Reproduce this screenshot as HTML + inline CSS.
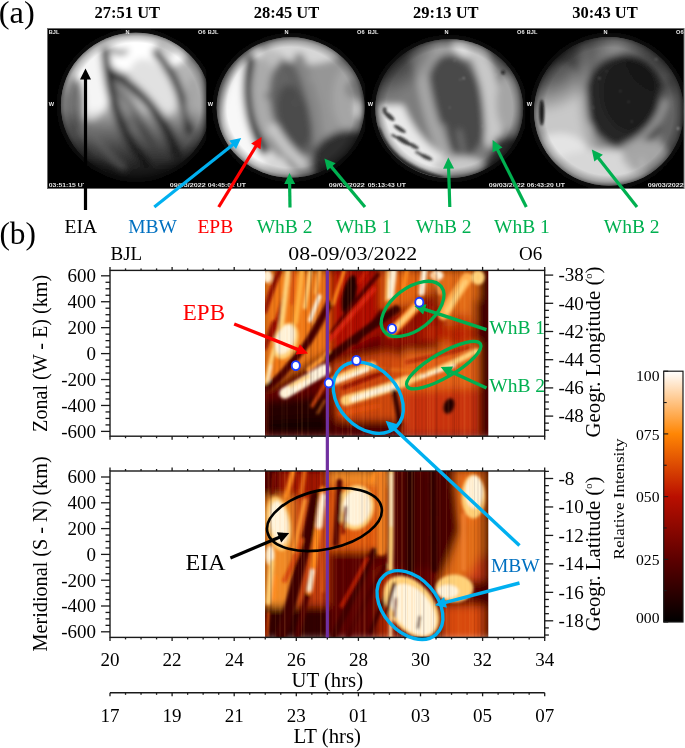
<!DOCTYPE html>
<html><head><meta charset="utf-8"><style>
html,body{margin:0;padding:0;background:#fff;width:685px;height:748px;overflow:hidden}
svg{display:block}
</style></head><body>
<svg width="685" height="748" viewBox="0 0 685 748">
<defs>
<linearGradient id="cbar" x1="0" y1="1" x2="0" y2="0">
<stop offset="0" stop-color="#000"/>
<stop offset="0.25" stop-color="#5d0000"/>
<stop offset="0.5" stop-color="#ba0f00"/>
<stop offset="0.75" stop-color="#ff8604"/>
<stop offset="1" stop-color="#fff"/>
</linearGradient>
<filter id="sb" x="-10%" y="-10%" width="120%" height="120%"><feGaussianBlur stdDeviation="15"/></filter>
<filter id="kb" x="-5%" y="-5%" width="110%" height="110%"><feGaussianBlur stdDeviation="1.8"/></filter>
<filter id="kbb" x="-5%" y="-5%" width="110%" height="110%"><feGaussianBlur stdDeviation="4"/></filter>
<filter id="sb2" x="-10%" y="-10%" width="120%" height="120%"><feGaussianBlur stdDeviation="5"/></filter>
<filter id="halo" x="-20%" y="-20%" width="140%" height="140%"><feGaussianBlur stdDeviation="14"/></filter>
<radialGradient id="vig" cx="0.5" cy="0.5" r="0.5">
<stop offset="0.86" stop-color="#000" stop-opacity="0"/>
<stop offset="0.95" stop-color="#000" stop-opacity="0.25"/>
<stop offset="1" stop-color="#000" stop-opacity="0.5"/>
</radialGradient>
<radialGradient id="dkr" cx="0.5" cy="0.5" r="0.5">
<stop offset="0" stop-color="#000" stop-opacity="0.75"/>
<stop offset="0.5" stop-color="#000" stop-opacity="0.5"/>
<stop offset="1" stop-color="#000" stop-opacity="0"/>
</radialGradient>
<linearGradient id="dk1" x1="0" y1="0" x2="0" y2="1">
<stop offset="0.5" stop-color="#000" stop-opacity="0"/>
<stop offset="0.62" stop-color="#000" stop-opacity="0.35"/>
<stop offset="0.75" stop-color="#000" stop-opacity="0.62"/>
<stop offset="0.88" stop-color="#000" stop-opacity="0.85"/>
</linearGradient>
<linearGradient id="skyv1" x1="0" y1="0" x2="0" y2="1">
<stop offset="0.05" stop-color="#e8e8e8"/>
<stop offset="0.25" stop-color="#d0d0d0"/>
<stop offset="0.5" stop-color="#a0a0a0"/>
<stop offset="0.75" stop-color="#707070"/>
<stop offset="0.95" stop-color="#303030"/>
</linearGradient>
</defs>
<rect width="685" height="748" fill="#fff"/>
<g id="sky">
<rect x="47" y="28" width="637" height="161" fill="#000"/>
<clipPath id="sc0"><ellipse cx="382" cy="330" rx="322" ry="310"/></clipPath>
<clipPath id="pc0"><rect x="0" y="0" width="685" height="689"/></clipPath>
<g transform="translate(47,28) scale(0.23248,0.23367)" clip-path="url(#pc0)">
<ellipse cx="382" cy="330" rx="332" ry="320" fill="#121212" filter="url(#halo)"/>
<g clip-path="url(#sc0)"><g filter="url(#sb)">
<rect x="0" y="0" width="685" height="689" fill="#b4b4b4"/>
<ellipse cx="380" cy="100" rx="230" ry="90" fill="#ffffff" opacity="1"/>
<ellipse cx="175" cy="240" rx="100" ry="160" fill="#f5f5f5" opacity="1"/>
<ellipse cx="120" cy="330" rx="40" ry="120" fill="#787878" opacity="1"/>
<ellipse cx="455" cy="260" rx="85" ry="140" fill="#e1e1e1" transform="rotate(-30 455 260)" opacity="1"/>
<path d="M262,200 C300,300 360,420 470,520 C440,420 380,300 262,200 Z" fill="#737373" opacity="1"/>
<ellipse cx="330" cy="360" rx="28" ry="65" fill="#919191" transform="rotate(-25 330 360)" opacity="1"/>
<path d="M250,95 C262,250 290,420 430,580" stroke="#282828" stroke-width="36" fill="none" stroke-linecap="round" opacity="1"/>
<path d="M270,185 C380,250 500,360 560,540" stroke="#2d2d2d" stroke-width="40" fill="none" stroke-linecap="round" opacity="1"/>
<path d="M470,105 C545,185 590,300 612,440" stroke="#373737" stroke-width="36" fill="none" stroke-linecap="round" opacity="1"/>
<path d="M115,250 C95,350 115,450 175,530" stroke="#5f5f5f" stroke-width="18" fill="none" stroke-linecap="round" opacity="1"/>
<path d="M280,90 C300,110 320,110 340,100" stroke="#6e6e6e" stroke-width="20" fill="none" stroke-linecap="round" opacity="1"/>
<path d="M480,70 C500,80 520,90 540,110" stroke="#787878" stroke-width="16" fill="none" stroke-linecap="round" opacity="1"/>
<ellipse cx="628" cy="310" rx="32" ry="100" fill="#a5a5a5" opacity="1"/>
<rect x="0" y="0" width="685" height="689" fill="url(#dk1)"/>
<path d="M170,400 C200,470 260,540 330,600" stroke="#6e6e6e" stroke-width="20" fill="none" stroke-linecap="round" opacity="0.7"/>
<circle cx="505" cy="222" r="3" fill="#fff"/><circle cx="330" cy="440" r="2" fill="#fff"/><circle cx="445" cy="560" r="2" fill="#fff"/><circle cx="380" cy="545" r="2" fill="#fff"/>
</g>
</g>
<ellipse cx="382" cy="330" rx="322" ry="310" fill="url(#vig)"/>
</g>
<clipPath id="sc1"><ellipse cx="364" cy="340" rx="318" ry="300"/></clipPath>
<clipPath id="pc1"><rect x="0" y="0" width="685" height="689"/></clipPath>
<g transform="translate(206,28) scale(0.23248,0.23367)" clip-path="url(#pc1)">
<ellipse cx="364" cy="340" rx="328" ry="310" fill="#121212" filter="url(#halo)"/>
<g clip-path="url(#sc1)"><g filter="url(#sb)">
<rect x="0" y="0" width="685" height="689" fill="#969696"/>
<ellipse cx="420" cy="95" rx="170" ry="60" fill="#d7d7d7" opacity="1"/>
<ellipse cx="260" cy="150" rx="90" ry="60" fill="#bebebe" opacity="1"/>
<path d="M215,75 C120,150 50,300 60,440 C80,560 200,640 340,650 L360,580 C250,540 170,420 168,290 C168,190 205,125 250,95 Z" fill="#f8f8f8" opacity="1"/>
<path d="M192,130 C166,250 176,400 250,525" stroke="#191919" stroke-width="38" fill="none" stroke-linecap="round" opacity="1"/>
<ellipse cx="255" cy="300" rx="60" ry="170" fill="#aaaaaa" transform="rotate(-5 255 300)" opacity="1"/>
<ellipse cx="385" cy="345" rx="105" ry="210" fill="#646464" transform="rotate(-14 385 345)" opacity="1"/>
<ellipse cx="380" cy="380" rx="70" ry="140" fill="#4b4b4b" transform="rotate(-14 380 380)" opacity="1"/>
<path d="M330,140 C350,180 390,230 420,300" stroke="#5a5a5a" stroke-width="16" fill="none" stroke-linecap="round" opacity="1"/>
<path d="M400,130 C455,250 480,380 490,520" stroke="#878787" stroke-width="48" fill="none" stroke-linecap="round" opacity="1"/>
<ellipse cx="605" cy="300" rx="60" ry="130" fill="#a5a5a5" opacity="1"/>
<ellipse cx="630" cy="262" rx="20" ry="26" fill="none" stroke="#555555" stroke-width="12"/>
<ellipse cx="665" cy="350" rx="22" ry="40" fill="#ebebeb" opacity="1"/>
<ellipse cx="600" cy="560" rx="150" ry="120" fill="#232323" transform="rotate(-20 600 560)" opacity="0.9"/>
<ellipse cx="325" cy="600" rx="85" ry="40" fill="#d7d7d7" transform="rotate(25 325 600)" opacity="1"/>
<path d="M350,565 L395,615" stroke="#3c3c3c" stroke-width="12" fill="none" stroke-linecap="round" opacity="1"/>
<path d="M290,430 C320,480 360,530 410,580" stroke="#cdcdcd" stroke-width="45" fill="none" stroke-linecap="round" opacity="0.9"/>
<circle cx="450" cy="218" r="3" fill="#fff"/><circle cx="262" cy="290" r="0" fill="#fff"/><circle cx="385" cy="320" r="2" fill="#fff"/><circle cx="420" cy="550" r="3" fill="#fff"/><circle cx="400" cy="545" r="2" fill="#fff"/><circle cx="300" cy="235" r="2" fill="#fff"/>
<ellipse cx="262" cy="290" rx="7" ry="9" fill="#101010"/>
</g>
</g>
<ellipse cx="364" cy="340" rx="318" ry="300" fill="url(#vig)"/>
</g>
<clipPath id="sc2"><ellipse cx="358" cy="345" rx="318" ry="297"/></clipPath>
<clipPath id="pc2"><rect x="0" y="0" width="685" height="689"/></clipPath>
<g transform="translate(366,28) scale(0.23248,0.23367)" clip-path="url(#pc2)">
<ellipse cx="358" cy="345" rx="328" ry="307" fill="#121212" filter="url(#halo)"/>
<g clip-path="url(#sc2)"><g filter="url(#sb)">
<rect x="0" y="0" width="685" height="689" fill="#7d7d7d"/>
<ellipse cx="300" cy="120" rx="120" ry="70" fill="#a0a0a0" opacity="1"/>
<ellipse cx="450" cy="85" rx="85" ry="45" fill="#e4e4e4" transform="rotate(20 450 85)" opacity="1"/>
<ellipse cx="130" cy="260" rx="80" ry="120" fill="#7d7d7d" transform="rotate(15 130 260)" opacity="1"/>
<ellipse cx="390" cy="330" rx="120" ry="220" fill="#484848" transform="rotate(-12 390 330)" opacity="1"/>
<path d="M225,80 C240,250 280,420 350,560" stroke="#a5a5a5" stroke-width="55" fill="none" stroke-linecap="round" opacity="1"/>
<path d="M470,80 C530,190 550,330 548,480" stroke="#c8c8c8" stroke-width="75" fill="none" stroke-linecap="round" opacity="1"/>
<ellipse cx="610" cy="320" rx="50" ry="120" fill="#a5a5a5" opacity="1"/>
<path d="M45,330 C45,470 130,600 300,640 L470,620 C360,570 230,510 160,330 Z" fill="#e8e8e8" opacity="1"/>
<ellipse cx="400" cy="590" rx="110" ry="40" fill="#c8c8c8" opacity="1"/>
<path d="M330,420 L360,560" stroke="#aaaaaa" stroke-width="20" fill="none" stroke-linecap="round" opacity="0.7"/>
<path d="M400,440 L420,540" stroke="#a0a0a0" stroke-width="16" fill="none" stroke-linecap="round" opacity="0.6"/>
<path d="M560,470 C610,460 700,470 700,480 L700,700 L470,700 C500,620 530,540 560,470 Z" fill="#323232" opacity="1"/>
<ellipse cx="90" cy="90" rx="230" ry="200" fill="url(#dkr)" transform="rotate(-40 90 90)" opacity="0.9"/>
<ellipse cx="640" cy="80" rx="150" ry="130" fill="url(#dkr)" opacity="0.5"/>
</g>
<g filter="url(#sb2)">
<ellipse cx="100" cy="378" rx="28" ry="10" fill="#1e1e1e" transform="rotate(40 100 378)" opacity="0.85"/>
<ellipse cx="80" cy="352" rx="9" ry="14" fill="#282828" opacity="0.8"/>
<ellipse cx="145" cy="432" rx="30" ry="9" fill="#232323" transform="rotate(32 145 432)" opacity="0.85"/>
<ellipse cx="160" cy="482" rx="36" ry="11" fill="#1e1e1e" transform="rotate(30 160 482)" opacity="0.85"/>
<ellipse cx="205" cy="505" rx="24" ry="9" fill="#282828" transform="rotate(28 205 505)" opacity="0.8"/>
<ellipse cx="120" cy="462" rx="14" ry="6" fill="#2d2d2d" transform="rotate(30 120 462)" opacity="0.8"/>
<ellipse cx="258" cy="552" rx="30" ry="9" fill="#232323" transform="rotate(25 258 552)" opacity="0.85"/>
<ellipse cx="225" cy="535" rx="16" ry="7" fill="#2d2d2d" transform="rotate(28 225 535)" opacity="0.7"/>
<path d="M50,440 C85,530 160,600 320,645" stroke="#1e1e1e" stroke-width="26" fill="none" stroke-linecap="round" opacity="0.75"/>
<circle cx="420" cy="215" r="3" fill="#fff"/><circle cx="405" cy="220" r="2" fill="#fff"/><circle cx="360" cy="340" r="2" fill="#fff"/><circle cx="500" cy="420" r="2" fill="#fff"/><circle cx="330" cy="530" r="2" fill="#fff"/><circle cx="380" cy="140" r="2" fill="#fff"/><circle cx="560" cy="200" r="2" fill="#fff"/>
<ellipse cx="590" cy="190" rx="7" ry="8" fill="#151515"/>
</g>
</g>
<ellipse cx="358" cy="345" rx="318" ry="297" fill="url(#vig)"/>
</g>
<clipPath id="sc3"><ellipse cx="361" cy="357" rx="322" ry="318"/></clipPath>
<clipPath id="pc3"><rect x="0" y="0" width="685" height="689"/></clipPath>
<g transform="translate(525,28) scale(0.23248,0.23367)" clip-path="url(#pc3)">
<ellipse cx="361" cy="357" rx="332" ry="328" fill="#121212" filter="url(#halo)"/>
<g clip-path="url(#sc3)"><g filter="url(#sb)">
<rect x="0" y="0" width="685" height="689" fill="#8c8c8c"/>
<ellipse cx="150" cy="420" rx="140" ry="270" fill="#c8c8c8" opacity="1"/>
<ellipse cx="150" cy="560" rx="130" ry="110" fill="#e4e4e4" opacity="1"/>
<ellipse cx="440" cy="95" rx="130" ry="55" fill="#8c8c8c" opacity="1"/>
<ellipse cx="250" cy="200" rx="25" ry="150" fill="#aaaaaa" opacity="1"/>
<ellipse cx="435" cy="315" rx="178" ry="205" fill="#262626" transform="rotate(-10 435 315)" opacity="1"/>
<ellipse cx="450" cy="290" rx="120" ry="160" fill="#1c1c1c" transform="rotate(-10 450 290)" opacity="1"/>
<path d="M255,100 C235,250 245,400 290,520" stroke="#afafaf" stroke-width="36" fill="none" stroke-linecap="round" opacity="1"/>
<ellipse cx="630" cy="380" rx="55" ry="170" fill="#646464" opacity="1"/>
<path d="M600,320 C570,420 500,480 420,515" stroke="#969696" stroke-width="30" fill="none" stroke-linecap="round" opacity="1"/>
<ellipse cx="330" cy="600" rx="220" ry="80" fill="#d7d7d7" opacity="1"/>
<ellipse cx="520" cy="550" rx="100" ry="70" fill="#a5a5a5" opacity="1"/>
<path d="M440,560 L460,640 M500,560 L510,630" stroke="#c8c8c8" stroke-width="14" fill="none" stroke-linecap="round" opacity="0.7"/>
<ellipse cx="100" cy="100" rx="300" ry="250" fill="url(#dkr)" transform="rotate(-40 100 100)"/>
<ellipse cx="620" cy="110" rx="220" ry="200" fill="url(#dkr)" opacity="0.75"/>
</g>
<g filter="url(#sb2)">
<ellipse cx="72" cy="362" rx="11" ry="55" fill="#0a0a0a" opacity="0.9"/>
<circle cx="320" cy="215" r="3" fill="#fff"/><circle cx="350" cy="185" r="2" fill="#fff"/><circle cx="410" cy="270" r="2" fill="#fff"/><circle cx="445" cy="315" r="2" fill="#fff"/><circle cx="295" cy="340" r="2" fill="#fff"/><circle cx="460" cy="400" r="2" fill="#fff"/><circle cx="565" cy="133" r="3" fill="#fff"/><circle cx="660" cy="430" r="5" fill="#fff"/><circle cx="270" cy="545" r="2" fill="#fff"/>
</g>
</g>
<ellipse cx="361" cy="357" rx="322" ry="318" fill="url(#vig)"/>
</g>
<rect x="47.5" y="28.5" width="636.5" height="160" fill="none" stroke="#6a6a6a" stroke-width="1"/>
<text x="48.8" y="34" font-size="5.6" font-weight="bold" fill="#e8e8e8" font-family='"Liberation Sans", "DejaVu Sans", sans-serif'>BJL</text>
<text x="127.5" y="34" font-size="5.6" font-weight="bold" fill="#e8e8e8" font-family='"Liberation Sans", "DejaVu Sans", sans-serif' text-anchor="middle">N</text>
<text x="205.5" y="34" font-size="5.6" font-weight="bold" fill="#e8e8e8" font-family='"Liberation Sans", "DejaVu Sans", sans-serif' text-anchor="end">O6</text>
<text x="48.8" y="106" font-size="5.6" font-weight="bold" fill="#e8e8e8" font-family='"Liberation Sans", "DejaVu Sans", sans-serif'>W</text>
<text x="48.8" y="187" font-size="5.6" font-weight="bold" fill="#e8e8e8" font-family='"Liberation Sans", "DejaVu Sans", sans-serif' textLength="38" lengthAdjust="spacingAndGlyphs">03:51:15 UT</text>
<text x="169.8" y="187.3" font-size="5.6" font-weight="bold" fill="#e8e8e8" font-family='"Liberation Sans", "DejaVu Sans", sans-serif' textLength="36" lengthAdjust="spacingAndGlyphs">09/03/2022</text>
<text x="207.8" y="34" font-size="5.6" font-weight="bold" fill="#e8e8e8" font-family='"Liberation Sans", "DejaVu Sans", sans-serif'>BJL</text>
<text x="286.5" y="34" font-size="5.6" font-weight="bold" fill="#e8e8e8" font-family='"Liberation Sans", "DejaVu Sans", sans-serif' text-anchor="middle">N</text>
<text x="364.5" y="34" font-size="5.6" font-weight="bold" fill="#e8e8e8" font-family='"Liberation Sans", "DejaVu Sans", sans-serif' text-anchor="end">O6</text>
<text x="207.8" y="106" font-size="5.6" font-weight="bold" fill="#e8e8e8" font-family='"Liberation Sans", "DejaVu Sans", sans-serif'>W</text>
<text x="207.8" y="187" font-size="5.6" font-weight="bold" fill="#e8e8e8" font-family='"Liberation Sans", "DejaVu Sans", sans-serif' textLength="38" lengthAdjust="spacingAndGlyphs">04:45:02 UT</text>
<text x="328.8" y="187.3" font-size="5.6" font-weight="bold" fill="#e8e8e8" font-family='"Liberation Sans", "DejaVu Sans", sans-serif' textLength="36" lengthAdjust="spacingAndGlyphs">09/03/2022</text>
<text x="367.8" y="34" font-size="5.6" font-weight="bold" fill="#e8e8e8" font-family='"Liberation Sans", "DejaVu Sans", sans-serif'>BJL</text>
<text x="446.5" y="34" font-size="5.6" font-weight="bold" fill="#e8e8e8" font-family='"Liberation Sans", "DejaVu Sans", sans-serif' text-anchor="middle">N</text>
<text x="524.5" y="34" font-size="5.6" font-weight="bold" fill="#e8e8e8" font-family='"Liberation Sans", "DejaVu Sans", sans-serif' text-anchor="end">O6</text>
<text x="367.8" y="106" font-size="5.6" font-weight="bold" fill="#e8e8e8" font-family='"Liberation Sans", "DejaVu Sans", sans-serif'>W</text>
<text x="367.8" y="187" font-size="5.6" font-weight="bold" fill="#e8e8e8" font-family='"Liberation Sans", "DejaVu Sans", sans-serif' textLength="38" lengthAdjust="spacingAndGlyphs">05:13:43 UT</text>
<text x="488.8" y="187.3" font-size="5.6" font-weight="bold" fill="#e8e8e8" font-family='"Liberation Sans", "DejaVu Sans", sans-serif' textLength="36" lengthAdjust="spacingAndGlyphs">09/03/2022</text>
<text x="526.8" y="34" font-size="5.6" font-weight="bold" fill="#e8e8e8" font-family='"Liberation Sans", "DejaVu Sans", sans-serif'>BJL</text>
<text x="605.5" y="34" font-size="5.6" font-weight="bold" fill="#e8e8e8" font-family='"Liberation Sans", "DejaVu Sans", sans-serif' text-anchor="middle">N</text>
<text x="683.5" y="34" font-size="5.6" font-weight="bold" fill="#e8e8e8" font-family='"Liberation Sans", "DejaVu Sans", sans-serif' text-anchor="end">O6</text>
<text x="526.8" y="106" font-size="5.6" font-weight="bold" fill="#e8e8e8" font-family='"Liberation Sans", "DejaVu Sans", sans-serif'>W</text>
<text x="526.8" y="187" font-size="5.6" font-weight="bold" fill="#e8e8e8" font-family='"Liberation Sans", "DejaVu Sans", sans-serif' textLength="38" lengthAdjust="spacingAndGlyphs">06:43:20 UT</text>
<text x="647.8" y="187.3" font-size="5.6" font-weight="bold" fill="#e8e8e8" font-family='"Liberation Sans", "DejaVu Sans", sans-serif' textLength="36" lengthAdjust="spacingAndGlyphs">09/03/2022</text>
</g>
<text x="-1.2" y="22.6" font-size="31" fill="#000" text-anchor="start" font-weight="normal" font-family='"Liberation Serif", "DejaVu Serif", serif' textLength="36" lengthAdjust="spacingAndGlyphs">(a)</text>
<text x="127.3" y="18.0" font-size="16.5" fill="#000" text-anchor="middle" font-weight="bold" font-family='"Liberation Serif", "DejaVu Serif", serif' >27:51 UT</text>
<text x="286.5" y="18.0" font-size="16.5" fill="#000" text-anchor="middle" font-weight="bold" font-family='"Liberation Serif", "DejaVu Serif", serif' >28:45 UT</text>
<text x="445.8" y="18.0" font-size="16.5" fill="#000" text-anchor="middle" font-weight="bold" font-family='"Liberation Serif", "DejaVu Serif", serif' >29:13 UT</text>
<text x="605.0" y="18.0" font-size="16.5" fill="#000" text-anchor="middle" font-weight="bold" font-family='"Liberation Serif", "DejaVu Serif", serif' >30:43 UT</text>
<text x="-0.6" y="243.6" font-size="31" fill="#000" text-anchor="start" font-weight="normal" font-family='"Liberation Serif", "DejaVu Serif", serif' textLength="36.5" lengthAdjust="spacingAndGlyphs">(b)</text>
<text x="64.6" y="233.0" font-size="19.5" fill="#000" text-anchor="start" font-weight="normal" font-family='"Liberation Serif", "DejaVu Serif", serif' >EIA</text>
<text x="128.2" y="233.0" font-size="19.5" fill="#0070c0" text-anchor="start" font-weight="normal" font-family='"Liberation Serif", "DejaVu Serif", serif' >MBW</text>
<text x="197.4" y="233.0" font-size="19.5" fill="#ff0000" text-anchor="start" font-weight="normal" font-family='"Liberation Serif", "DejaVu Serif", serif' >EPB</text>
<text x="256.7" y="233.0" font-size="19.5" fill="#00b050" text-anchor="start" font-weight="normal" font-family='"Liberation Serif", "DejaVu Serif", serif' >WhB 2</text>
<text x="335.7" y="233.0" font-size="19.5" fill="#00b050" text-anchor="start" font-weight="normal" font-family='"Liberation Serif", "DejaVu Serif", serif' >WhB 1</text>
<text x="415.8" y="233.0" font-size="19.5" fill="#00b050" text-anchor="start" font-weight="normal" font-family='"Liberation Serif", "DejaVu Serif", serif' >WhB 2</text>
<text x="494.0" y="233.0" font-size="19.5" fill="#00b050" text-anchor="start" font-weight="normal" font-family='"Liberation Serif", "DejaVu Serif", serif' >WhB 1</text>
<text x="603.8" y="233.0" font-size="19.5" fill="#00b050" text-anchor="start" font-weight="normal" font-family='"Liberation Serif", "DejaVu Serif", serif' >WhB 2</text>
<line x1="85.5" y1="210.0" x2="85.5" y2="78.5" stroke="#000" stroke-width="3.2"/>
<polygon points="85.5,68.5 91.0,79.5 80.0,79.5" fill="#000"/>
<line x1="154.3" y1="207.0" x2="233.4" y2="144.2" stroke="#00b0f0" stroke-width="3.2"/>
<polygon points="241.2,138.0 236.0,149.1 229.2,140.5" fill="#00b0f0"/>
<line x1="218.7" y1="207.0" x2="256.4" y2="145.5" stroke="#ff0000" stroke-width="3.2"/>
<polygon points="261.6,137.0 260.5,149.3 251.2,143.5" fill="#ff0000"/>
<line x1="290.0" y1="207.5" x2="289.6" y2="183.0" stroke="#00b050" stroke-width="3.2"/>
<polygon points="289.5,173.0 295.2,183.9 284.2,184.1" fill="#00b050"/>
<line x1="365.0" y1="207.0" x2="330.8" y2="166.1" stroke="#00b050" stroke-width="3.2"/>
<polygon points="324.4,158.4 335.7,163.3 327.2,170.4" fill="#00b050"/>
<line x1="449.8" y1="207.0" x2="448.6" y2="167.6" stroke="#00b050" stroke-width="3.2"/>
<polygon points="448.3,157.6 454.1,168.4 443.1,168.8" fill="#00b050"/>
<line x1="526.3" y1="207.0" x2="497.1" y2="148.9" stroke="#00b050" stroke-width="3.2"/>
<polygon points="492.6,140.0 502.5,147.4 492.6,152.3" fill="#00b050"/>
<line x1="637.0" y1="207.0" x2="598.0" y2="157.4" stroke="#00b050" stroke-width="3.2"/>
<polygon points="591.8,149.5 602.9,154.7 594.3,161.5" fill="#00b050"/>
<clipPath id="kcu"><rect x="265" y="270.4" width="223.3" height="165.8"/></clipPath>
<clipPath id="kcl"><rect x="265" y="471.0" width="223.3" height="166.39999999999998"/></clipPath>
<g clip-path="url(#kcu)">
<g filter="url(#kbb)"><g transform="translate(250,260) scale(0.364964)">
<rect x="0" y="0" width="685" height="493" fill="#600400" opacity="1"/>
<polygon points="40,30 215,30 215,250 40,350" fill="#f07818" opacity="1"/>
<polygon points="40,385 120,378 215,370 215,480 40,480" fill="#280000" opacity="1"/>
<polygon points="40,440 215,430 215,480 40,480" fill="#180000" opacity="1"/>
<polygon points="216,30 360,30 360,200 216,270" fill="#b01000" opacity="1"/>
<polygon points="225,285 300,265 380,250 430,270 430,470 240,440" fill="#d04a08" opacity="1"/>
<polygon points="216,440 420,440 420,480 216,480" fill="#4a0000" opacity="1"/>
<polygon points="360,30 500,30 500,110 360,140" fill="#e06010" opacity="1"/>
<polygon points="360,140 470,120 470,230 360,240" fill="#901000" opacity="1"/>
<polygon points="460,100 520,90 525,210 465,215" fill="#800600" opacity="1"/>
<polygon points="500,30 640,30 640,270 520,270 520,100" fill="#e26a18" opacity="1"/>
<polygon points="560,150 600,150 600,260 540,260" fill="#b02000" opacity="0.7"/>
<polygon points="466,126 540,126 540,220 466,220" fill="#9a1200" opacity="1"/>
<polygon points="466,180 658,180 658,225 466,225" fill="#b82000" opacity="0.8"/>
<polygon points="615,110 658,110 658,225 615,225" fill="#6a0400" opacity="1"/>
<polygon points="420,250 640,240 640,360 420,370" fill="#e26018" opacity="1"/>
<polygon points="420,360 640,350 640,480 420,480" fill="#c83008" opacity="1"/>
<rect x="632" y="30" width="20" height="450" fill="#180000" opacity="1"/>
<rect x="625" y="30" width="8" height="450" fill="#5a0000" opacity="0.8"/>
</g></g>
<g filter="url(#kb)"><g transform="translate(250,260) scale(0.364964)">
<ellipse cx="48" cy="45" rx="12" ry="18" fill="#fff4dc" opacity="1"/>
<path d="M40,140 Q60,80 70.0,55.0 L80,30" stroke="#8a0800" stroke-width="14" fill="none" stroke-linecap="round" stroke-linejoin="round" opacity="1"/>
<path d="M40,240 Q55,200 60.5,186.0 L66,172" stroke="#8a0800" stroke-width="14" fill="none" stroke-linecap="round" stroke-linejoin="round" opacity="1"/>
<path d="M60,215 Q75,165 82.5,140.0 Q90,115 95.0,95.0 L100,75" stroke="#a01000" stroke-width="12" fill="none" stroke-linecap="round" stroke-linejoin="round" opacity="1"/>
<path d="M84,200 Q95,110 99.5,70.0 L104,30" stroke="#ffd27a" stroke-width="14" fill="none" stroke-linecap="round" stroke-linejoin="round" opacity="1"/>
<path d="M125,170 Q135,100 138.5,65.0 L142,30" stroke="#ffb040" stroke-width="14" fill="none" stroke-linecap="round" stroke-linejoin="round" opacity="1"/>
<path d="M150,130 Q158,80 161.5,55.0 L165,30" stroke="#ffd27a" stroke-width="10" fill="none" stroke-linecap="round" stroke-linejoin="round" opacity="1"/>
<path d="M115,120 L120,30" stroke="#e05010" stroke-width="8" fill="none" stroke-linecap="round" stroke-linejoin="round" opacity="1"/>
<path d="M165,165 Q178,130 184.0,115.0 L190,100" stroke="#fff4dc" stroke-width="12" fill="none" stroke-linecap="round" stroke-linejoin="round" opacity="1"/>
<path d="M180,90 L190,30" stroke="#ffb050" stroke-width="10" fill="none" stroke-linecap="round" stroke-linejoin="round" opacity="1"/>
<ellipse cx="98" cy="222" rx="32" ry="52" fill="#ffd27a" transform="rotate(20 98 222)" opacity="1"/>
<ellipse cx="96" cy="218" rx="24" ry="42" fill="#fff4dc" transform="rotate(20 96 218)" opacity="1"/>
<path d="M45,335 Q55,285 60.5,265.0 L66,245" stroke="#ffd27a" stroke-width="12" fill="none" stroke-linecap="round" stroke-linejoin="round" opacity="1"/>
<path d="M50,330 L58,290" stroke="#fff4dc" stroke-width="6" fill="none" stroke-linecap="round" stroke-linejoin="round" opacity="1"/>
<path d="M38,358 Q77,328 101.0,298.0 Q125,268 143.0,246.0 Q161,224 177.5,194.0 Q194,164 205.0,143.0 L216,122" stroke="#4a0000" stroke-width="20" fill="none" stroke-linecap="round" stroke-linejoin="round" opacity="1"/>
<path d="M95,365 Q150,333 177.5,316.5 L205,300" stroke="#fff4dc" stroke-width="30" fill="none" stroke-linecap="round" stroke-linejoin="round" opacity="1"/>
<path d="M110,345 L160,318" stroke="#ffd27a" stroke-width="10" fill="none" stroke-linecap="round" stroke-linejoin="round" opacity="1"/>
<path d="M160,300 Q200,270 207.5,262.5 L215,255" stroke="#ff9a30" stroke-width="14" fill="none" stroke-linecap="round" stroke-linejoin="round" opacity="1"/>
<path d="M170,400 Q195,360 202.5,345.0 L210,330" stroke="#e0500a" stroke-width="10" fill="none" stroke-linecap="round" stroke-linejoin="round" opacity="0.9"/>
<path d="M185,420 L205,385" stroke="#ff8a1e" stroke-width="6" fill="none" stroke-linecap="round" stroke-linejoin="round" opacity="0.7"/>
<ellipse cx="272" cy="95" rx="18" ry="55" fill="#200000" transform="rotate(12 272 95)" opacity="1"/>
<path d="M225,200 Q260,150 280.0,125.0 Q300,100 325.0,70.0 L350,40" stroke="#500000" stroke-width="12" fill="none" stroke-linecap="round" stroke-linejoin="round" opacity="1"/>
<path d="M290,230 Q330,180 345.0,160.0 L360,140" stroke="#500000" stroke-width="10" fill="none" stroke-linecap="round" stroke-linejoin="round" opacity="1"/>
<path d="M222,215 Q260,170 280.0,147.5 Q300,125 320.0,102.5 L340,80" stroke="#d82008" stroke-width="14" fill="none" stroke-linecap="round" stroke-linejoin="round" opacity="1"/>
<path d="M228,120 Q248,60 253.0,45.0 L258,30" stroke="#ff8a1e" stroke-width="10" fill="none" stroke-linecap="round" stroke-linejoin="round" opacity="1"/>
<path d="M300,60 L320,30" stroke="#c81800" stroke-width="10" fill="none" stroke-linecap="round" stroke-linejoin="round" opacity="1"/>
<path d="M215,270 Q280,220 315.0,195.0 Q350,170 375.0,152.5 L400,135" stroke="#3a0000" stroke-width="22" fill="none" stroke-linecap="round" stroke-linejoin="round" opacity="1"/>
<path d="M232,330 Q280,310 307.5,300.0 L335,290" stroke="#ffd27a" stroke-width="24" fill="none" stroke-linecap="round" stroke-linejoin="round" opacity="1"/>
<path d="M240,330 Q290,312 305.0,306.0 L320,300" stroke="#fff4dc" stroke-width="12" fill="none" stroke-linecap="round" stroke-linejoin="round" opacity="1"/>
<path d="M255,350 Q340,318 360.0,309.0 L380,300" stroke="#900800" stroke-width="10" fill="none" stroke-linecap="round" stroke-linejoin="round" opacity="1"/>
<path d="M262,385 Q330,365 355.0,357.5 Q380,350 405.0,340.0 L430,330" stroke="#ffd27a" stroke-width="28" fill="none" stroke-linecap="round" stroke-linejoin="round" opacity="1"/>
<path d="M280,382 Q340,362 370.0,353.5 L400,345" stroke="#fff4dc" stroke-width="14" fill="none" stroke-linecap="round" stroke-linejoin="round" opacity="1"/>
<path d="M250,420 Q300,410 325.0,405.0 L350,400" stroke="#e0500a" stroke-width="14" fill="none" stroke-linecap="round" stroke-linejoin="round" opacity="1"/>
<path d="M395,360 Q405,410 407.5,430.0 L410,450" stroke="#300000" stroke-width="14" fill="none" stroke-linecap="round" stroke-linejoin="round" opacity="1"/>
<path d="M385,100 Q390,60 391.5,45.0 L393,30" stroke="#fff4dc" stroke-width="18" fill="none" stroke-linecap="round" stroke-linejoin="round" opacity="1"/>
<path d="M375,110 L378,30" stroke="#ffd27a" stroke-width="8" fill="none" stroke-linecap="round" stroke-linejoin="round" opacity="1"/>
<path d="M470,90 L478,30" stroke="#fff4dc" stroke-width="16" fill="none" stroke-linecap="round" stroke-linejoin="round" opacity="1"/>
<path d="M420,80 L430,30" stroke="#ff8a1e" stroke-width="10" fill="none" stroke-linecap="round" stroke-linejoin="round" opacity="1"/>
<path d="M385,200 Q420,165 441.0,142.5 L462,120" stroke="#ff8a1e" stroke-width="26" fill="none" stroke-linecap="round" stroke-linejoin="round" opacity="1"/>
<path d="M395,190 Q425,160 440.0,144.0 L455,128" stroke="#ffd27a" stroke-width="12" fill="none" stroke-linecap="round" stroke-linejoin="round" opacity="1"/>
<path d="M530,150 Q560,100 577.5,75.0 L595,50" stroke="#ffb050" stroke-width="30" fill="none" stroke-linecap="round" stroke-linejoin="round" opacity="1"/>
<path d="M540,140 Q565,100 577.5,80.0 L590,60" stroke="#ffd27a" stroke-width="12" fill="none" stroke-linecap="round" stroke-linejoin="round" opacity="1"/>
<ellipse cx="512" cy="42" rx="18" ry="14" fill="#fff4dc" opacity="1"/>
<ellipse cx="625" cy="48" rx="18" ry="20" fill="#ffd27a" opacity="1"/>
<path d="M505,40 L520,90" stroke="#ffb060" stroke-width="12" fill="none" stroke-linecap="round" stroke-linejoin="round" opacity="0.7"/>
<path d="M440,330 Q520,300 570.0,275.0 L620,250" stroke="#ffd27a" stroke-width="16" fill="none" stroke-linecap="round" stroke-linejoin="round" opacity="1"/>
<path d="M470,320 L560,290" stroke="#fff4dc" stroke-width="8" fill="none" stroke-linecap="round" stroke-linejoin="round" opacity="1"/>
<path d="M430,280 Q520,260 560.0,250.0 L600,240" stroke="#a01000" stroke-width="8" fill="none" stroke-linecap="round" stroke-linejoin="round" opacity="0.8"/>
<ellipse cx="545" cy="400" rx="14" ry="22" fill="#200000" transform="rotate(20 545 400)" opacity="1"/>
<path d="M330,300 Q420,300 450.0,305.0 L480,310" stroke="#f08020" stroke-width="10" fill="none" stroke-linecap="round" stroke-linejoin="round" opacity="0.6"/>
</g></g>
</g>
<g clip-path="url(#kcl)">
<g filter="url(#kbb)"><g transform="translate(250,460) scale(0.364964)">
<rect x="0" y="0" width="685" height="493" fill="#5a0400" opacity="1"/>
<polygon points="40,30 215,30 215,100 40,100" fill="#a01400" opacity="1"/>
<polygon points="40,30 80,30 80,110 40,110" fill="#4a0000" opacity="1"/>
<polygon points="40,100 120,100 120,400 40,400" fill="#f08a28" opacity="1"/>
<polygon points="120,100 215,100 215,400 120,400" fill="#c03a08" opacity="1"/>
<polygon points="40,400 215,400 215,493 40,493" fill="#300000" opacity="1"/>
<polygon points="216,30 370,30 370,250 216,250" fill="#e05a10" opacity="1"/>
<polygon points="216,30 370,30 370,70 216,70" fill="#f08a28" opacity="1"/>
<polygon points="216,250 380,250 380,493 216,493" fill="#5a0400" opacity="1"/>
<polygon points="395,30 560,30 560,310 395,310" fill="#4a0000" opacity="1"/>
<polygon points="560,30 640,30 640,330 590,330" fill="#e86a18" opacity="1"/>
<polygon points="580,200 640,200 640,330 590,330" fill="#c83010" opacity="0.7"/>
<rect x="640" y="30" width="15" height="460" fill="#100000" opacity="1"/>
<polygon points="395,300 560,300 560,330 395,330" fill="#600400" opacity="1"/>
<polygon points="530,400 640,400 640,493 530,493" fill="#d84a10" opacity="1"/>
<polygon points="585,170 640,170 640,250 580,340 520,340" fill="#e06a18" opacity="1"/>
<polygon points="350,300 395,300 395,493 350,493" fill="#c03000" opacity="0.8"/>
</g></g>
<g filter="url(#kb)"><g transform="translate(250,460) scale(0.364964)">
<ellipse cx="78" cy="175" rx="34" ry="75" fill="#ffd27a" transform="rotate(-8 78 175)" opacity="0.9"/>
<ellipse cx="80" cy="172" rx="24" ry="60" fill="#fff4dc" transform="rotate(-8 80 172)" opacity="1"/>
<ellipse cx="55" cy="262" rx="12" ry="28" fill="#fff4dc" opacity="1"/>
<path d="M50,390 Q55,330 57.5,305.0 L60,280" stroke="#ffd27a" stroke-width="14" fill="none" stroke-linecap="round" stroke-linejoin="round" opacity="1"/>
<path d="M65,380 L70,320" stroke="#ff8a1e" stroke-width="10" fill="none" stroke-linecap="round" stroke-linejoin="round" opacity="1"/>
<path d="M100,100 Q110,60 114.0,45.0 L118,30" stroke="#ff8a1e" stroke-width="14" fill="none" stroke-linecap="round" stroke-linejoin="round" opacity="1"/>
<path d="M140,90 L150,30" stroke="#e06010" stroke-width="12" fill="none" stroke-linecap="round" stroke-linejoin="round" opacity="1"/>
<path d="M60,90 L65,40" stroke="#801000" stroke-width="10" fill="none" stroke-linecap="round" stroke-linejoin="round" opacity="1"/>
<path d="M85,480 Q105,420 115.0,380.0 Q125,340 135.0,300.0 Q145,260 155.0,220.0 Q165,180 172.5,140.0 L180,100" stroke="#400000" stroke-width="30" fill="none" stroke-linecap="round" stroke-linejoin="round" opacity="1"/>
<path d="M130,480 Q150,400 157.5,365.0 L165,330" stroke="#500000" stroke-width="16" fill="none" stroke-linecap="round" stroke-linejoin="round" opacity="1"/>
<path d="M95,330 Q120,280 130.0,250.0 L140,220" stroke="#d84a0a" stroke-width="14" fill="none" stroke-linecap="round" stroke-linejoin="round" opacity="1"/>
<path d="M163,360 Q172,300 177.0,260.0 Q182,220 187.0,180.0 Q192,140 196.0,110.0 L200,80" stroke="#ff8a1e" stroke-width="18" fill="none" stroke-linecap="round" stroke-linejoin="round" opacity="1"/>
<path d="M190,180 Q195,130 198.5,115.0 L202,100" stroke="#fff4dc" stroke-width="16" fill="none" stroke-linecap="round" stroke-linejoin="round" opacity="1"/>
<path d="M163,355 L170,305" stroke="#fff4dc" stroke-width="12" fill="none" stroke-linecap="round" stroke-linejoin="round" opacity="1"/>
<path d="M200,360 Q205,250 207.5,185.0 L210,120" stroke="#e86018" stroke-width="8" fill="none" stroke-linecap="round" stroke-linejoin="round" opacity="1"/>
<path d="M120,250 Q135,180 142.5,145.0 L150,110" stroke="#ff9a30" stroke-width="10" fill="none" stroke-linecap="round" stroke-linejoin="round" opacity="1"/>
<path d="M45,480 L50,420" stroke="#d04000" stroke-width="8" fill="none" stroke-linecap="round" stroke-linejoin="round" opacity="1"/>
<ellipse cx="290" cy="130" rx="50" ry="62" fill="#ffd27a" transform="rotate(10 290 130)" opacity="1"/>
<ellipse cx="292" cy="130" rx="38" ry="50" fill="#fff4dc" transform="rotate(10 292 130)" opacity="1"/>
<path d="M235,230 Q240,150 242.5,105.0 L245,60" stroke="#500000" stroke-width="16" fill="none" stroke-linecap="round" stroke-linejoin="round" opacity="1"/>
<path d="M255,200 L262,130" stroke="#700000" stroke-width="8" fill="none" stroke-linecap="round" stroke-linejoin="round" opacity="1"/>
<path d="M330,60 L350,30" stroke="#ff8a1e" stroke-width="10" fill="none" stroke-linecap="round" stroke-linejoin="round" opacity="1"/>
<path d="M230,480 Q280,380 310.0,315.0 L340,250" stroke="#400000" stroke-width="18" fill="none" stroke-linecap="round" stroke-linejoin="round" opacity="1"/>
<path d="M270,480 Q320,380 345.0,335.0 L370,290" stroke="#500000" stroke-width="14" fill="none" stroke-linecap="round" stroke-linejoin="round" opacity="1"/>
<path d="M250,400 Q290,330 305.0,300.0 L320,270" stroke="#b81c00" stroke-width="10" fill="none" stroke-linecap="round" stroke-linejoin="round" opacity="1"/>
<path d="M330,470 Q360,400 370.0,375.0 L380,350" stroke="#400000" stroke-width="12" fill="none" stroke-linecap="round" stroke-linejoin="round" opacity="1"/>
<path d="M360,30 L360,250" stroke="#f08020" stroke-width="24" fill="none" stroke-linecap="round" stroke-linejoin="round" opacity="1"/>
<path d="M387,30 Q387,200 386.0,250.0 L385,300" stroke="#ffd27a" stroke-width="14" fill="none" stroke-linecap="round" stroke-linejoin="round" opacity="1"/>
<path d="M387,40 L387,180" stroke="#fff4dc" stroke-width="6" fill="none" stroke-linecap="round" stroke-linejoin="round" opacity="1"/>
<path d="M385,330 L385,487" stroke="#ffe6b0" stroke-width="8" fill="none" stroke-linecap="round" stroke-linejoin="round" opacity="1"/>
<path d="M440,30 L440,300" stroke="#2a0000" stroke-width="20" fill="none" stroke-linecap="round" stroke-linejoin="round" opacity="1"/>
<path d="M500,30 L505,300" stroke="#300000" stroke-width="16" fill="none" stroke-linecap="round" stroke-linejoin="round" opacity="1"/>
<ellipse cx="612" cy="100" rx="32" ry="60" fill="#ffd27a" opacity="1"/>
<ellipse cx="614" cy="88" rx="24" ry="45" fill="#fff4dc" opacity="1"/>
<path d="M585,300 L585,150" stroke="#f08030" stroke-width="10" fill="none" stroke-linecap="round" stroke-linejoin="round" opacity="1"/>
<ellipse cx="442" cy="402" rx="62" ry="96" fill="#ffd27a" transform="rotate(-38 442 402)" opacity="1"/>
<ellipse cx="446" cy="410" rx="50" ry="80" fill="#fff4dc" transform="rotate(-38 446 410)" opacity="1"/>
<path d="M375,420 Q385,370 390.0,355.0 L395,340" stroke="#4a0000" stroke-width="10" fill="none" stroke-linecap="round" stroke-linejoin="round" opacity="1"/>
<path d="M395,430 L400,380" stroke="#6a0000" stroke-width="6" fill="none" stroke-linecap="round" stroke-linejoin="round" opacity="1"/>
<path d="M460,460 L465,430" stroke="#3a0000" stroke-width="6" fill="none" stroke-linecap="round" stroke-linejoin="round" opacity="1"/>
<ellipse cx="560" cy="352" rx="52" ry="38" fill="#ffd27a" opacity="1"/>
<ellipse cx="542" cy="360" rx="30" ry="18" fill="#fff4dc" opacity="1"/>
</g></g>
</g>
<g clip-path="url(#kcu)">
<rect x="266.0" y="270.4" width="1.5" height="165.8" fill="#ffb050" opacity="0.09"/>
<rect x="268.0" y="270.4" width="1" height="165.8" fill="#ffb050" opacity="0.05"/>
<rect x="272.0" y="270.4" width="1" height="165.8" fill="#ffb050" opacity="0.07"/>
<rect x="273.5" y="270.4" width="2" height="165.8" fill="#200000" opacity="0.07"/>
<rect x="278.5" y="270.4" width="2" height="165.8" fill="#200000" opacity="0.11"/>
<rect x="281.5" y="270.4" width="1" height="165.8" fill="#ffb050" opacity="0.09"/>
<rect x="283.5" y="270.4" width="1" height="165.8" fill="#ffb050" opacity="0.06"/>
<rect x="286.5" y="270.4" width="1" height="165.8" fill="#ffb050" opacity="0.11"/>
<rect x="290.5" y="270.4" width="1" height="165.8" fill="#200000" opacity="0.11"/>
<rect x="292.5" y="270.4" width="1.5" height="165.8" fill="#200000" opacity="0.13"/>
<rect x="297.0" y="270.4" width="1" height="165.8" fill="#ffb050" opacity="0.10"/>
<rect x="301.0" y="270.4" width="2" height="165.8" fill="#ffb050" opacity="0.10"/>
<rect x="305.0" y="270.4" width="1.5" height="165.8" fill="#200000" opacity="0.14"/>
<rect x="307.5" y="270.4" width="1" height="165.8" fill="#ffb050" opacity="0.10"/>
<rect x="310.0" y="270.4" width="2" height="165.8" fill="#200000" opacity="0.16"/>
<rect x="312.5" y="270.4" width="2" height="165.8" fill="#200000" opacity="0.08"/>
<rect x="316.5" y="270.4" width="2" height="165.8" fill="#200000" opacity="0.12"/>
<rect x="321.5" y="270.4" width="1.5" height="165.8" fill="#200000" opacity="0.08"/>
<rect x="325.0" y="270.4" width="2" height="165.8" fill="#200000" opacity="0.05"/>
<rect x="328.5" y="270.4" width="2" height="165.8" fill="#ffb050" opacity="0.05"/>
<rect x="332.0" y="270.4" width="2" height="165.8" fill="#200000" opacity="0.09"/>
<rect x="335.5" y="270.4" width="1" height="165.8" fill="#ffb050" opacity="0.08"/>
<rect x="339.5" y="270.4" width="1" height="165.8" fill="#200000" opacity="0.07"/>
<rect x="342.0" y="270.4" width="1" height="165.8" fill="#ffb050" opacity="0.09"/>
<rect x="345.0" y="270.4" width="1" height="165.8" fill="#200000" opacity="0.09"/>
<rect x="347.5" y="270.4" width="1" height="165.8" fill="#ffb050" opacity="0.14"/>
<rect x="350.0" y="270.4" width="2" height="165.8" fill="#ffb050" opacity="0.12"/>
<rect x="354.0" y="270.4" width="1" height="165.8" fill="#200000" opacity="0.06"/>
<rect x="356.0" y="270.4" width="1" height="165.8" fill="#200000" opacity="0.14"/>
<rect x="358.0" y="270.4" width="1.5" height="165.8" fill="#200000" opacity="0.06"/>
<rect x="362.5" y="270.4" width="1.5" height="165.8" fill="#ffb050" opacity="0.08"/>
<rect x="365.0" y="270.4" width="1" height="165.8" fill="#200000" opacity="0.14"/>
<rect x="369.0" y="270.4" width="2" height="165.8" fill="#200000" opacity="0.09"/>
<rect x="373.0" y="270.4" width="2" height="165.8" fill="#200000" opacity="0.05"/>
<rect x="376.0" y="270.4" width="2" height="165.8" fill="#200000" opacity="0.08"/>
<rect x="378.5" y="270.4" width="1" height="165.8" fill="#200000" opacity="0.06"/>
<rect x="380.0" y="270.4" width="1.5" height="165.8" fill="#ffb050" opacity="0.05"/>
<rect x="382.5" y="270.4" width="2" height="165.8" fill="#200000" opacity="0.07"/>
<rect x="386.0" y="270.4" width="1.5" height="165.8" fill="#200000" opacity="0.05"/>
<rect x="389.5" y="270.4" width="2" height="165.8" fill="#200000" opacity="0.08"/>
<rect x="392.5" y="270.4" width="1" height="165.8" fill="#ffb050" opacity="0.13"/>
<rect x="395.5" y="270.4" width="1" height="165.8" fill="#ffb050" opacity="0.06"/>
<rect x="399.5" y="270.4" width="1.5" height="165.8" fill="#200000" opacity="0.11"/>
<rect x="401.5" y="270.4" width="1.5" height="165.8" fill="#ffb050" opacity="0.14"/>
<rect x="404.5" y="270.4" width="1.5" height="165.8" fill="#ffb050" opacity="0.08"/>
<rect x="407.0" y="270.4" width="1.5" height="165.8" fill="#ffb050" opacity="0.11"/>
<rect x="409.5" y="270.4" width="1" height="165.8" fill="#ffb050" opacity="0.13"/>
<rect x="411.5" y="270.4" width="1" height="165.8" fill="#ffb050" opacity="0.08"/>
<rect x="413.0" y="270.4" width="1" height="165.8" fill="#ffb050" opacity="0.10"/>
<rect x="415.0" y="270.4" width="1.5" height="165.8" fill="#200000" opacity="0.15"/>
<rect x="418.0" y="270.4" width="1.5" height="165.8" fill="#200000" opacity="0.05"/>
<rect x="421.5" y="270.4" width="1" height="165.8" fill="#200000" opacity="0.10"/>
<rect x="425.5" y="270.4" width="1" height="165.8" fill="#200000" opacity="0.12"/>
<rect x="427.0" y="270.4" width="1" height="165.8" fill="#ffb050" opacity="0.13"/>
<rect x="429.0" y="270.4" width="2" height="165.8" fill="#ffb050" opacity="0.09"/>
<rect x="432.5" y="270.4" width="1" height="165.8" fill="#ffb050" opacity="0.16"/>
<rect x="435.5" y="270.4" width="2" height="165.8" fill="#200000" opacity="0.15"/>
<rect x="438.5" y="270.4" width="1" height="165.8" fill="#ffb050" opacity="0.04"/>
<rect x="442.5" y="270.4" width="2" height="165.8" fill="#ffb050" opacity="0.06"/>
<rect x="447.5" y="270.4" width="2" height="165.8" fill="#ffb050" opacity="0.08"/>
<rect x="452.5" y="270.4" width="1" height="165.8" fill="#200000" opacity="0.14"/>
<rect x="454.0" y="270.4" width="1" height="165.8" fill="#200000" opacity="0.14"/>
<rect x="456.0" y="270.4" width="1" height="165.8" fill="#200000" opacity="0.08"/>
<rect x="458.0" y="270.4" width="1.5" height="165.8" fill="#200000" opacity="0.09"/>
<rect x="460.5" y="270.4" width="1" height="165.8" fill="#ffb050" opacity="0.08"/>
<rect x="463.5" y="270.4" width="2" height="165.8" fill="#ffb050" opacity="0.15"/>
<rect x="466.5" y="270.4" width="1" height="165.8" fill="#ffb050" opacity="0.04"/>
<rect x="469.5" y="270.4" width="1" height="165.8" fill="#ffb050" opacity="0.13"/>
<rect x="471.5" y="270.4" width="1" height="165.8" fill="#200000" opacity="0.11"/>
<rect x="473.0" y="270.4" width="1" height="165.8" fill="#200000" opacity="0.10"/>
<rect x="477.0" y="270.4" width="2" height="165.8" fill="#ffb050" opacity="0.05"/>
</g>
<g clip-path="url(#kcl)">
<rect x="266.0" y="471.0" width="1" height="166.4" fill="#200000" opacity="0.07"/>
<rect x="267.5" y="471.0" width="2" height="166.4" fill="#ffb050" opacity="0.13"/>
<rect x="270.0" y="471.0" width="2" height="166.4" fill="#200000" opacity="0.16"/>
<rect x="275.0" y="471.0" width="1" height="166.4" fill="#ffb050" opacity="0.09"/>
<rect x="279.0" y="471.0" width="2" height="166.4" fill="#ffb050" opacity="0.07"/>
<rect x="284.0" y="471.0" width="1.5" height="166.4" fill="#ffb050" opacity="0.15"/>
<rect x="286.5" y="471.0" width="2" height="166.4" fill="#200000" opacity="0.05"/>
<rect x="290.5" y="471.0" width="1.5" height="166.4" fill="#200000" opacity="0.07"/>
<rect x="292.5" y="471.0" width="1" height="166.4" fill="#ffb050" opacity="0.13"/>
<rect x="294.5" y="471.0" width="1.5" height="166.4" fill="#200000" opacity="0.15"/>
<rect x="298.0" y="471.0" width="1" height="166.4" fill="#ffb050" opacity="0.05"/>
<rect x="301.0" y="471.0" width="1" height="166.4" fill="#ffb050" opacity="0.14"/>
<rect x="303.0" y="471.0" width="2" height="166.4" fill="#ffb050" opacity="0.09"/>
<rect x="307.0" y="471.0" width="1" height="166.4" fill="#200000" opacity="0.05"/>
<rect x="309.5" y="471.0" width="1" height="166.4" fill="#200000" opacity="0.10"/>
<rect x="311.0" y="471.0" width="2" height="166.4" fill="#200000" opacity="0.11"/>
<rect x="316.0" y="471.0" width="1" height="166.4" fill="#200000" opacity="0.15"/>
<rect x="318.0" y="471.0" width="1" height="166.4" fill="#200000" opacity="0.07"/>
<rect x="320.0" y="471.0" width="1.5" height="166.4" fill="#ffb050" opacity="0.14"/>
<rect x="323.0" y="471.0" width="2" height="166.4" fill="#200000" opacity="0.15"/>
<rect x="328.0" y="471.0" width="2" height="166.4" fill="#ffb050" opacity="0.05"/>
<rect x="330.5" y="471.0" width="1" height="166.4" fill="#200000" opacity="0.05"/>
<rect x="332.0" y="471.0" width="1" height="166.4" fill="#ffb050" opacity="0.05"/>
<rect x="334.0" y="471.0" width="1" height="166.4" fill="#200000" opacity="0.05"/>
<rect x="335.5" y="471.0" width="1.5" height="166.4" fill="#ffb050" opacity="0.09"/>
<rect x="338.5" y="471.0" width="1" height="166.4" fill="#200000" opacity="0.13"/>
<rect x="340.0" y="471.0" width="1" height="166.4" fill="#200000" opacity="0.06"/>
<rect x="342.5" y="471.0" width="1.5" height="166.4" fill="#ffb050" opacity="0.06"/>
<rect x="346.0" y="471.0" width="1" height="166.4" fill="#200000" opacity="0.14"/>
<rect x="348.5" y="471.0" width="1" height="166.4" fill="#200000" opacity="0.13"/>
<rect x="352.5" y="471.0" width="1" height="166.4" fill="#ffb050" opacity="0.07"/>
<rect x="355.5" y="471.0" width="1" height="166.4" fill="#ffb050" opacity="0.12"/>
<rect x="358.5" y="471.0" width="2" height="166.4" fill="#ffb050" opacity="0.08"/>
<rect x="361.5" y="471.0" width="1" height="166.4" fill="#200000" opacity="0.14"/>
<rect x="363.5" y="471.0" width="2" height="166.4" fill="#ffb050" opacity="0.16"/>
<rect x="366.5" y="471.0" width="1" height="166.4" fill="#200000" opacity="0.13"/>
<rect x="369.0" y="471.0" width="2" height="166.4" fill="#200000" opacity="0.05"/>
<rect x="373.0" y="471.0" width="1.5" height="166.4" fill="#ffb050" opacity="0.12"/>
<rect x="375.0" y="471.0" width="2" height="166.4" fill="#200000" opacity="0.07"/>
<rect x="377.5" y="471.0" width="1.5" height="166.4" fill="#200000" opacity="0.08"/>
<rect x="382.0" y="471.0" width="1.5" height="166.4" fill="#200000" opacity="0.16"/>
<rect x="385.0" y="471.0" width="1" height="166.4" fill="#200000" opacity="0.04"/>
<rect x="388.0" y="471.0" width="1" height="166.4" fill="#200000" opacity="0.10"/>
<rect x="390.0" y="471.0" width="1" height="166.4" fill="#ffb050" opacity="0.04"/>
<rect x="392.5" y="471.0" width="1" height="166.4" fill="#200000" opacity="0.11"/>
<rect x="395.5" y="471.0" width="1" height="166.4" fill="#200000" opacity="0.12"/>
<rect x="397.0" y="471.0" width="1" height="166.4" fill="#ffb050" opacity="0.13"/>
<rect x="401.0" y="471.0" width="2" height="166.4" fill="#ffb050" opacity="0.13"/>
<rect x="405.0" y="471.0" width="1" height="166.4" fill="#200000" opacity="0.11"/>
<rect x="407.0" y="471.0" width="1" height="166.4" fill="#ffb050" opacity="0.13"/>
<rect x="411.0" y="471.0" width="2" height="166.4" fill="#ffb050" opacity="0.14"/>
<rect x="414.0" y="471.0" width="1" height="166.4" fill="#ffb050" opacity="0.11"/>
<rect x="416.0" y="471.0" width="1" height="166.4" fill="#200000" opacity="0.06"/>
<rect x="418.5" y="471.0" width="1" height="166.4" fill="#200000" opacity="0.09"/>
<rect x="420.0" y="471.0" width="1" height="166.4" fill="#ffb050" opacity="0.12"/>
<rect x="423.0" y="471.0" width="1.5" height="166.4" fill="#200000" opacity="0.14"/>
<rect x="427.5" y="471.0" width="1" height="166.4" fill="#ffb050" opacity="0.05"/>
<rect x="430.5" y="471.0" width="1.5" height="166.4" fill="#ffb050" opacity="0.14"/>
<rect x="433.0" y="471.0" width="1" height="166.4" fill="#200000" opacity="0.12"/>
<rect x="436.0" y="471.0" width="2" height="166.4" fill="#ffb050" opacity="0.05"/>
<rect x="439.5" y="471.0" width="1" height="166.4" fill="#ffb050" opacity="0.12"/>
<rect x="441.0" y="471.0" width="1" height="166.4" fill="#200000" opacity="0.12"/>
<rect x="443.5" y="471.0" width="1" height="166.4" fill="#200000" opacity="0.05"/>
<rect x="446.0" y="471.0" width="1" height="166.4" fill="#ffb050" opacity="0.12"/>
<rect x="448.5" y="471.0" width="1.5" height="166.4" fill="#200000" opacity="0.10"/>
<rect x="450.5" y="471.0" width="1" height="166.4" fill="#200000" opacity="0.05"/>
<rect x="453.5" y="471.0" width="1" height="166.4" fill="#200000" opacity="0.05"/>
<rect x="457.5" y="471.0" width="2" height="166.4" fill="#ffb050" opacity="0.09"/>
<rect x="460.5" y="471.0" width="1" height="166.4" fill="#ffb050" opacity="0.06"/>
<rect x="464.5" y="471.0" width="1.5" height="166.4" fill="#ffb050" opacity="0.06"/>
<rect x="469.0" y="471.0" width="1.5" height="166.4" fill="#ffb050" opacity="0.12"/>
<rect x="471.5" y="471.0" width="2" height="166.4" fill="#ffb050" opacity="0.10"/>
<rect x="474.0" y="471.0" width="1" height="166.4" fill="#200000" opacity="0.10"/>
<rect x="477.0" y="471.0" width="2" height="166.4" fill="#200000" opacity="0.06"/>
<rect x="480.5" y="471.0" width="2" height="166.4" fill="#200000" opacity="0.14"/>
</g>
<rect x="110" y="270.4" width="434.70000000000005" height="165.8" fill="none" stroke="#1a1a1a" stroke-width="1.4"/>
<line x1="110.00" y1="270.40" x2="110.00" y2="266.90" stroke="#1a1a1a" stroke-width="1.3" />
<line x1="110.00" y1="436.20" x2="110.00" y2="439.70" stroke="#1a1a1a" stroke-width="1.3" />
<line x1="125.53" y1="270.40" x2="125.53" y2="268.40" stroke="#1a1a1a" stroke-width="1.3" />
<line x1="125.53" y1="436.20" x2="125.53" y2="438.20" stroke="#1a1a1a" stroke-width="1.3" />
<line x1="141.05" y1="270.40" x2="141.05" y2="268.40" stroke="#1a1a1a" stroke-width="1.3" />
<line x1="141.05" y1="436.20" x2="141.05" y2="438.20" stroke="#1a1a1a" stroke-width="1.3" />
<line x1="156.57" y1="270.40" x2="156.57" y2="268.40" stroke="#1a1a1a" stroke-width="1.3" />
<line x1="156.57" y1="436.20" x2="156.57" y2="438.20" stroke="#1a1a1a" stroke-width="1.3" />
<line x1="172.10" y1="270.40" x2="172.10" y2="266.90" stroke="#1a1a1a" stroke-width="1.3" />
<line x1="172.10" y1="436.20" x2="172.10" y2="439.70" stroke="#1a1a1a" stroke-width="1.3" />
<line x1="187.62" y1="270.40" x2="187.62" y2="268.40" stroke="#1a1a1a" stroke-width="1.3" />
<line x1="187.62" y1="436.20" x2="187.62" y2="438.20" stroke="#1a1a1a" stroke-width="1.3" />
<line x1="203.15" y1="270.40" x2="203.15" y2="268.40" stroke="#1a1a1a" stroke-width="1.3" />
<line x1="203.15" y1="436.20" x2="203.15" y2="438.20" stroke="#1a1a1a" stroke-width="1.3" />
<line x1="218.68" y1="270.40" x2="218.68" y2="268.40" stroke="#1a1a1a" stroke-width="1.3" />
<line x1="218.68" y1="436.20" x2="218.68" y2="438.20" stroke="#1a1a1a" stroke-width="1.3" />
<line x1="234.20" y1="270.40" x2="234.20" y2="266.90" stroke="#1a1a1a" stroke-width="1.3" />
<line x1="234.20" y1="436.20" x2="234.20" y2="439.70" stroke="#1a1a1a" stroke-width="1.3" />
<line x1="249.72" y1="270.40" x2="249.72" y2="268.40" stroke="#1a1a1a" stroke-width="1.3" />
<line x1="249.72" y1="436.20" x2="249.72" y2="438.20" stroke="#1a1a1a" stroke-width="1.3" />
<line x1="265.25" y1="270.40" x2="265.25" y2="268.40" stroke="#1a1a1a" stroke-width="1.3" />
<line x1="265.25" y1="436.20" x2="265.25" y2="438.20" stroke="#1a1a1a" stroke-width="1.3" />
<line x1="280.77" y1="270.40" x2="280.77" y2="268.40" stroke="#1a1a1a" stroke-width="1.3" />
<line x1="280.77" y1="436.20" x2="280.77" y2="438.20" stroke="#1a1a1a" stroke-width="1.3" />
<line x1="296.30" y1="270.40" x2="296.30" y2="266.90" stroke="#1a1a1a" stroke-width="1.3" />
<line x1="296.30" y1="436.20" x2="296.30" y2="439.70" stroke="#1a1a1a" stroke-width="1.3" />
<line x1="311.83" y1="270.40" x2="311.83" y2="268.40" stroke="#1a1a1a" stroke-width="1.3" />
<line x1="311.83" y1="436.20" x2="311.83" y2="438.20" stroke="#1a1a1a" stroke-width="1.3" />
<line x1="327.35" y1="270.40" x2="327.35" y2="268.40" stroke="#1a1a1a" stroke-width="1.3" />
<line x1="327.35" y1="436.20" x2="327.35" y2="438.20" stroke="#1a1a1a" stroke-width="1.3" />
<line x1="342.88" y1="270.40" x2="342.88" y2="268.40" stroke="#1a1a1a" stroke-width="1.3" />
<line x1="342.88" y1="436.20" x2="342.88" y2="438.20" stroke="#1a1a1a" stroke-width="1.3" />
<line x1="358.40" y1="270.40" x2="358.40" y2="266.90" stroke="#1a1a1a" stroke-width="1.3" />
<line x1="358.40" y1="436.20" x2="358.40" y2="439.70" stroke="#1a1a1a" stroke-width="1.3" />
<line x1="373.93" y1="270.40" x2="373.93" y2="268.40" stroke="#1a1a1a" stroke-width="1.3" />
<line x1="373.93" y1="436.20" x2="373.93" y2="438.20" stroke="#1a1a1a" stroke-width="1.3" />
<line x1="389.45" y1="270.40" x2="389.45" y2="268.40" stroke="#1a1a1a" stroke-width="1.3" />
<line x1="389.45" y1="436.20" x2="389.45" y2="438.20" stroke="#1a1a1a" stroke-width="1.3" />
<line x1="404.98" y1="270.40" x2="404.98" y2="268.40" stroke="#1a1a1a" stroke-width="1.3" />
<line x1="404.98" y1="436.20" x2="404.98" y2="438.20" stroke="#1a1a1a" stroke-width="1.3" />
<line x1="420.50" y1="270.40" x2="420.50" y2="266.90" stroke="#1a1a1a" stroke-width="1.3" />
<line x1="420.50" y1="436.20" x2="420.50" y2="439.70" stroke="#1a1a1a" stroke-width="1.3" />
<line x1="436.03" y1="270.40" x2="436.03" y2="268.40" stroke="#1a1a1a" stroke-width="1.3" />
<line x1="436.03" y1="436.20" x2="436.03" y2="438.20" stroke="#1a1a1a" stroke-width="1.3" />
<line x1="451.55" y1="270.40" x2="451.55" y2="268.40" stroke="#1a1a1a" stroke-width="1.3" />
<line x1="451.55" y1="436.20" x2="451.55" y2="438.20" stroke="#1a1a1a" stroke-width="1.3" />
<line x1="467.07" y1="270.40" x2="467.07" y2="268.40" stroke="#1a1a1a" stroke-width="1.3" />
<line x1="467.07" y1="436.20" x2="467.07" y2="438.20" stroke="#1a1a1a" stroke-width="1.3" />
<line x1="482.60" y1="270.40" x2="482.60" y2="266.90" stroke="#1a1a1a" stroke-width="1.3" />
<line x1="482.60" y1="436.20" x2="482.60" y2="439.70" stroke="#1a1a1a" stroke-width="1.3" />
<line x1="498.12" y1="270.40" x2="498.12" y2="268.40" stroke="#1a1a1a" stroke-width="1.3" />
<line x1="498.12" y1="436.20" x2="498.12" y2="438.20" stroke="#1a1a1a" stroke-width="1.3" />
<line x1="513.65" y1="270.40" x2="513.65" y2="268.40" stroke="#1a1a1a" stroke-width="1.3" />
<line x1="513.65" y1="436.20" x2="513.65" y2="438.20" stroke="#1a1a1a" stroke-width="1.3" />
<line x1="529.17" y1="270.40" x2="529.17" y2="268.40" stroke="#1a1a1a" stroke-width="1.3" />
<line x1="529.17" y1="436.20" x2="529.17" y2="438.20" stroke="#1a1a1a" stroke-width="1.3" />
<line x1="544.70" y1="270.40" x2="544.70" y2="266.90" stroke="#1a1a1a" stroke-width="1.3" />
<line x1="544.70" y1="436.20" x2="544.70" y2="439.70" stroke="#1a1a1a" stroke-width="1.3" />
<rect x="110" y="471.0" width="434.70000000000005" height="166.39999999999998" fill="none" stroke="#1a1a1a" stroke-width="1.4"/>
<line x1="110.00" y1="471.00" x2="110.00" y2="467.50" stroke="#1a1a1a" stroke-width="1.3" />
<line x1="110.00" y1="637.40" x2="110.00" y2="640.90" stroke="#1a1a1a" stroke-width="1.3" />
<line x1="125.53" y1="471.00" x2="125.53" y2="469.00" stroke="#1a1a1a" stroke-width="1.3" />
<line x1="125.53" y1="637.40" x2="125.53" y2="639.40" stroke="#1a1a1a" stroke-width="1.3" />
<line x1="141.05" y1="471.00" x2="141.05" y2="469.00" stroke="#1a1a1a" stroke-width="1.3" />
<line x1="141.05" y1="637.40" x2="141.05" y2="639.40" stroke="#1a1a1a" stroke-width="1.3" />
<line x1="156.57" y1="471.00" x2="156.57" y2="469.00" stroke="#1a1a1a" stroke-width="1.3" />
<line x1="156.57" y1="637.40" x2="156.57" y2="639.40" stroke="#1a1a1a" stroke-width="1.3" />
<line x1="172.10" y1="471.00" x2="172.10" y2="467.50" stroke="#1a1a1a" stroke-width="1.3" />
<line x1="172.10" y1="637.40" x2="172.10" y2="640.90" stroke="#1a1a1a" stroke-width="1.3" />
<line x1="187.62" y1="471.00" x2="187.62" y2="469.00" stroke="#1a1a1a" stroke-width="1.3" />
<line x1="187.62" y1="637.40" x2="187.62" y2="639.40" stroke="#1a1a1a" stroke-width="1.3" />
<line x1="203.15" y1="471.00" x2="203.15" y2="469.00" stroke="#1a1a1a" stroke-width="1.3" />
<line x1="203.15" y1="637.40" x2="203.15" y2="639.40" stroke="#1a1a1a" stroke-width="1.3" />
<line x1="218.68" y1="471.00" x2="218.68" y2="469.00" stroke="#1a1a1a" stroke-width="1.3" />
<line x1="218.68" y1="637.40" x2="218.68" y2="639.40" stroke="#1a1a1a" stroke-width="1.3" />
<line x1="234.20" y1="471.00" x2="234.20" y2="467.50" stroke="#1a1a1a" stroke-width="1.3" />
<line x1="234.20" y1="637.40" x2="234.20" y2="640.90" stroke="#1a1a1a" stroke-width="1.3" />
<line x1="249.72" y1="471.00" x2="249.72" y2="469.00" stroke="#1a1a1a" stroke-width="1.3" />
<line x1="249.72" y1="637.40" x2="249.72" y2="639.40" stroke="#1a1a1a" stroke-width="1.3" />
<line x1="265.25" y1="471.00" x2="265.25" y2="469.00" stroke="#1a1a1a" stroke-width="1.3" />
<line x1="265.25" y1="637.40" x2="265.25" y2="639.40" stroke="#1a1a1a" stroke-width="1.3" />
<line x1="280.77" y1="471.00" x2="280.77" y2="469.00" stroke="#1a1a1a" stroke-width="1.3" />
<line x1="280.77" y1="637.40" x2="280.77" y2="639.40" stroke="#1a1a1a" stroke-width="1.3" />
<line x1="296.30" y1="471.00" x2="296.30" y2="467.50" stroke="#1a1a1a" stroke-width="1.3" />
<line x1="296.30" y1="637.40" x2="296.30" y2="640.90" stroke="#1a1a1a" stroke-width="1.3" />
<line x1="311.83" y1="471.00" x2="311.83" y2="469.00" stroke="#1a1a1a" stroke-width="1.3" />
<line x1="311.83" y1="637.40" x2="311.83" y2="639.40" stroke="#1a1a1a" stroke-width="1.3" />
<line x1="327.35" y1="471.00" x2="327.35" y2="469.00" stroke="#1a1a1a" stroke-width="1.3" />
<line x1="327.35" y1="637.40" x2="327.35" y2="639.40" stroke="#1a1a1a" stroke-width="1.3" />
<line x1="342.88" y1="471.00" x2="342.88" y2="469.00" stroke="#1a1a1a" stroke-width="1.3" />
<line x1="342.88" y1="637.40" x2="342.88" y2="639.40" stroke="#1a1a1a" stroke-width="1.3" />
<line x1="358.40" y1="471.00" x2="358.40" y2="467.50" stroke="#1a1a1a" stroke-width="1.3" />
<line x1="358.40" y1="637.40" x2="358.40" y2="640.90" stroke="#1a1a1a" stroke-width="1.3" />
<line x1="373.93" y1="471.00" x2="373.93" y2="469.00" stroke="#1a1a1a" stroke-width="1.3" />
<line x1="373.93" y1="637.40" x2="373.93" y2="639.40" stroke="#1a1a1a" stroke-width="1.3" />
<line x1="389.45" y1="471.00" x2="389.45" y2="469.00" stroke="#1a1a1a" stroke-width="1.3" />
<line x1="389.45" y1="637.40" x2="389.45" y2="639.40" stroke="#1a1a1a" stroke-width="1.3" />
<line x1="404.98" y1="471.00" x2="404.98" y2="469.00" stroke="#1a1a1a" stroke-width="1.3" />
<line x1="404.98" y1="637.40" x2="404.98" y2="639.40" stroke="#1a1a1a" stroke-width="1.3" />
<line x1="420.50" y1="471.00" x2="420.50" y2="467.50" stroke="#1a1a1a" stroke-width="1.3" />
<line x1="420.50" y1="637.40" x2="420.50" y2="640.90" stroke="#1a1a1a" stroke-width="1.3" />
<line x1="436.03" y1="471.00" x2="436.03" y2="469.00" stroke="#1a1a1a" stroke-width="1.3" />
<line x1="436.03" y1="637.40" x2="436.03" y2="639.40" stroke="#1a1a1a" stroke-width="1.3" />
<line x1="451.55" y1="471.00" x2="451.55" y2="469.00" stroke="#1a1a1a" stroke-width="1.3" />
<line x1="451.55" y1="637.40" x2="451.55" y2="639.40" stroke="#1a1a1a" stroke-width="1.3" />
<line x1="467.07" y1="471.00" x2="467.07" y2="469.00" stroke="#1a1a1a" stroke-width="1.3" />
<line x1="467.07" y1="637.40" x2="467.07" y2="639.40" stroke="#1a1a1a" stroke-width="1.3" />
<line x1="482.60" y1="471.00" x2="482.60" y2="467.50" stroke="#1a1a1a" stroke-width="1.3" />
<line x1="482.60" y1="637.40" x2="482.60" y2="640.90" stroke="#1a1a1a" stroke-width="1.3" />
<line x1="498.12" y1="471.00" x2="498.12" y2="469.00" stroke="#1a1a1a" stroke-width="1.3" />
<line x1="498.12" y1="637.40" x2="498.12" y2="639.40" stroke="#1a1a1a" stroke-width="1.3" />
<line x1="513.65" y1="471.00" x2="513.65" y2="469.00" stroke="#1a1a1a" stroke-width="1.3" />
<line x1="513.65" y1="637.40" x2="513.65" y2="639.40" stroke="#1a1a1a" stroke-width="1.3" />
<line x1="529.17" y1="471.00" x2="529.17" y2="469.00" stroke="#1a1a1a" stroke-width="1.3" />
<line x1="529.17" y1="637.40" x2="529.17" y2="639.40" stroke="#1a1a1a" stroke-width="1.3" />
<line x1="544.70" y1="471.00" x2="544.70" y2="467.50" stroke="#1a1a1a" stroke-width="1.3" />
<line x1="544.70" y1="637.40" x2="544.70" y2="640.90" stroke="#1a1a1a" stroke-width="1.3" />
<line x1="110.00" y1="431.39" x2="101.00" y2="431.39" stroke="#1a1a1a" stroke-width="1.3" />
<line x1="110.00" y1="424.91" x2="105.50" y2="424.91" stroke="#1a1a1a" stroke-width="1.3" />
<line x1="110.00" y1="418.43" x2="105.50" y2="418.43" stroke="#1a1a1a" stroke-width="1.3" />
<line x1="110.00" y1="411.94" x2="105.50" y2="411.94" stroke="#1a1a1a" stroke-width="1.3" />
<line x1="110.00" y1="405.46" x2="101.00" y2="405.46" stroke="#1a1a1a" stroke-width="1.3" />
<line x1="110.00" y1="398.98" x2="105.50" y2="398.98" stroke="#1a1a1a" stroke-width="1.3" />
<line x1="110.00" y1="392.50" x2="105.50" y2="392.50" stroke="#1a1a1a" stroke-width="1.3" />
<line x1="110.00" y1="386.01" x2="105.50" y2="386.01" stroke="#1a1a1a" stroke-width="1.3" />
<line x1="110.00" y1="379.53" x2="101.00" y2="379.53" stroke="#1a1a1a" stroke-width="1.3" />
<line x1="110.00" y1="373.05" x2="105.50" y2="373.05" stroke="#1a1a1a" stroke-width="1.3" />
<line x1="110.00" y1="366.56" x2="105.50" y2="366.56" stroke="#1a1a1a" stroke-width="1.3" />
<line x1="110.00" y1="360.08" x2="105.50" y2="360.08" stroke="#1a1a1a" stroke-width="1.3" />
<line x1="110.00" y1="353.60" x2="101.00" y2="353.60" stroke="#1a1a1a" stroke-width="1.3" />
<line x1="110.00" y1="347.12" x2="105.50" y2="347.12" stroke="#1a1a1a" stroke-width="1.3" />
<line x1="110.00" y1="340.64" x2="105.50" y2="340.64" stroke="#1a1a1a" stroke-width="1.3" />
<line x1="110.00" y1="334.15" x2="105.50" y2="334.15" stroke="#1a1a1a" stroke-width="1.3" />
<line x1="110.00" y1="327.67" x2="101.00" y2="327.67" stroke="#1a1a1a" stroke-width="1.3" />
<line x1="110.00" y1="321.19" x2="105.50" y2="321.19" stroke="#1a1a1a" stroke-width="1.3" />
<line x1="110.00" y1="314.71" x2="105.50" y2="314.71" stroke="#1a1a1a" stroke-width="1.3" />
<line x1="110.00" y1="308.22" x2="105.50" y2="308.22" stroke="#1a1a1a" stroke-width="1.3" />
<line x1="110.00" y1="301.74" x2="101.00" y2="301.74" stroke="#1a1a1a" stroke-width="1.3" />
<line x1="110.00" y1="295.26" x2="105.50" y2="295.26" stroke="#1a1a1a" stroke-width="1.3" />
<line x1="110.00" y1="288.78" x2="105.50" y2="288.78" stroke="#1a1a1a" stroke-width="1.3" />
<line x1="110.00" y1="282.29" x2="105.50" y2="282.29" stroke="#1a1a1a" stroke-width="1.3" />
<line x1="110.00" y1="275.81" x2="101.00" y2="275.81" stroke="#1a1a1a" stroke-width="1.3" />
<text x="96.0" y="437.7" font-size="19" fill="#000" text-anchor="end" font-weight="normal" font-family='"Liberation Serif", "DejaVu Serif", serif' >-600</text>
<text x="96.0" y="411.8" font-size="19" fill="#000" text-anchor="end" font-weight="normal" font-family='"Liberation Serif", "DejaVu Serif", serif' >-400</text>
<text x="96.0" y="385.8" font-size="19" fill="#000" text-anchor="end" font-weight="normal" font-family='"Liberation Serif", "DejaVu Serif", serif' >-200</text>
<text x="96.0" y="359.9" font-size="19" fill="#000" text-anchor="end" font-weight="normal" font-family='"Liberation Serif", "DejaVu Serif", serif' >0</text>
<text x="96.0" y="334.0" font-size="19" fill="#000" text-anchor="end" font-weight="normal" font-family='"Liberation Serif", "DejaVu Serif", serif' >200</text>
<text x="96.0" y="308.0" font-size="19" fill="#000" text-anchor="end" font-weight="normal" font-family='"Liberation Serif", "DejaVu Serif", serif' >400</text>
<text x="96.0" y="282.1" font-size="19" fill="#000" text-anchor="end" font-weight="normal" font-family='"Liberation Serif", "DejaVu Serif", serif' >600</text>
<line x1="110.00" y1="631.80" x2="101.00" y2="631.80" stroke="#1a1a1a" stroke-width="1.3" />
<line x1="110.00" y1="625.35" x2="105.50" y2="625.35" stroke="#1a1a1a" stroke-width="1.3" />
<line x1="110.00" y1="618.90" x2="105.50" y2="618.90" stroke="#1a1a1a" stroke-width="1.3" />
<line x1="110.00" y1="612.45" x2="105.50" y2="612.45" stroke="#1a1a1a" stroke-width="1.3" />
<line x1="110.00" y1="606.00" x2="101.00" y2="606.00" stroke="#1a1a1a" stroke-width="1.3" />
<line x1="110.00" y1="599.55" x2="105.50" y2="599.55" stroke="#1a1a1a" stroke-width="1.3" />
<line x1="110.00" y1="593.10" x2="105.50" y2="593.10" stroke="#1a1a1a" stroke-width="1.3" />
<line x1="110.00" y1="586.65" x2="105.50" y2="586.65" stroke="#1a1a1a" stroke-width="1.3" />
<line x1="110.00" y1="580.20" x2="101.00" y2="580.20" stroke="#1a1a1a" stroke-width="1.3" />
<line x1="110.00" y1="573.75" x2="105.50" y2="573.75" stroke="#1a1a1a" stroke-width="1.3" />
<line x1="110.00" y1="567.30" x2="105.50" y2="567.30" stroke="#1a1a1a" stroke-width="1.3" />
<line x1="110.00" y1="560.85" x2="105.50" y2="560.85" stroke="#1a1a1a" stroke-width="1.3" />
<line x1="110.00" y1="554.40" x2="101.00" y2="554.40" stroke="#1a1a1a" stroke-width="1.3" />
<line x1="110.00" y1="547.95" x2="105.50" y2="547.95" stroke="#1a1a1a" stroke-width="1.3" />
<line x1="110.00" y1="541.50" x2="105.50" y2="541.50" stroke="#1a1a1a" stroke-width="1.3" />
<line x1="110.00" y1="535.05" x2="105.50" y2="535.05" stroke="#1a1a1a" stroke-width="1.3" />
<line x1="110.00" y1="528.60" x2="101.00" y2="528.60" stroke="#1a1a1a" stroke-width="1.3" />
<line x1="110.00" y1="522.15" x2="105.50" y2="522.15" stroke="#1a1a1a" stroke-width="1.3" />
<line x1="110.00" y1="515.70" x2="105.50" y2="515.70" stroke="#1a1a1a" stroke-width="1.3" />
<line x1="110.00" y1="509.25" x2="105.50" y2="509.25" stroke="#1a1a1a" stroke-width="1.3" />
<line x1="110.00" y1="502.80" x2="101.00" y2="502.80" stroke="#1a1a1a" stroke-width="1.3" />
<line x1="110.00" y1="496.35" x2="105.50" y2="496.35" stroke="#1a1a1a" stroke-width="1.3" />
<line x1="110.00" y1="489.90" x2="105.50" y2="489.90" stroke="#1a1a1a" stroke-width="1.3" />
<line x1="110.00" y1="483.45" x2="105.50" y2="483.45" stroke="#1a1a1a" stroke-width="1.3" />
<line x1="110.00" y1="477.00" x2="101.00" y2="477.00" stroke="#1a1a1a" stroke-width="1.3" />
<text x="96.0" y="638.1" font-size="19" fill="#000" text-anchor="end" font-weight="normal" font-family='"Liberation Serif", "DejaVu Serif", serif' >-600</text>
<text x="96.0" y="612.3" font-size="19" fill="#000" text-anchor="end" font-weight="normal" font-family='"Liberation Serif", "DejaVu Serif", serif' >-400</text>
<text x="96.0" y="586.5" font-size="19" fill="#000" text-anchor="end" font-weight="normal" font-family='"Liberation Serif", "DejaVu Serif", serif' >-200</text>
<text x="96.0" y="560.7" font-size="19" fill="#000" text-anchor="end" font-weight="normal" font-family='"Liberation Serif", "DejaVu Serif", serif' >0</text>
<text x="96.0" y="534.9" font-size="19" fill="#000" text-anchor="end" font-weight="normal" font-family='"Liberation Serif", "DejaVu Serif", serif' >200</text>
<text x="96.0" y="509.1" font-size="19" fill="#000" text-anchor="end" font-weight="normal" font-family='"Liberation Serif", "DejaVu Serif", serif' >400</text>
<text x="96.0" y="483.3" font-size="19" fill="#000" text-anchor="end" font-weight="normal" font-family='"Liberation Serif", "DejaVu Serif", serif' >600</text>
<line x1="544.70" y1="430.20" x2="548.90" y2="430.20" stroke="#1a1a1a" stroke-width="1.3" />
<line x1="544.70" y1="423.15" x2="548.90" y2="423.15" stroke="#1a1a1a" stroke-width="1.3" />
<line x1="544.70" y1="416.10" x2="553.20" y2="416.10" stroke="#1a1a1a" stroke-width="1.3" />
<line x1="544.70" y1="409.05" x2="548.90" y2="409.05" stroke="#1a1a1a" stroke-width="1.3" />
<line x1="544.70" y1="402.00" x2="548.90" y2="402.00" stroke="#1a1a1a" stroke-width="1.3" />
<line x1="544.70" y1="394.95" x2="548.90" y2="394.95" stroke="#1a1a1a" stroke-width="1.3" />
<line x1="544.70" y1="387.90" x2="553.20" y2="387.90" stroke="#1a1a1a" stroke-width="1.3" />
<line x1="544.70" y1="380.85" x2="548.90" y2="380.85" stroke="#1a1a1a" stroke-width="1.3" />
<line x1="544.70" y1="373.80" x2="548.90" y2="373.80" stroke="#1a1a1a" stroke-width="1.3" />
<line x1="544.70" y1="366.75" x2="548.90" y2="366.75" stroke="#1a1a1a" stroke-width="1.3" />
<line x1="544.70" y1="359.70" x2="553.20" y2="359.70" stroke="#1a1a1a" stroke-width="1.3" />
<line x1="544.70" y1="352.65" x2="548.90" y2="352.65" stroke="#1a1a1a" stroke-width="1.3" />
<line x1="544.70" y1="345.60" x2="548.90" y2="345.60" stroke="#1a1a1a" stroke-width="1.3" />
<line x1="544.70" y1="338.55" x2="548.90" y2="338.55" stroke="#1a1a1a" stroke-width="1.3" />
<line x1="544.70" y1="331.50" x2="553.20" y2="331.50" stroke="#1a1a1a" stroke-width="1.3" />
<line x1="544.70" y1="324.45" x2="548.90" y2="324.45" stroke="#1a1a1a" stroke-width="1.3" />
<line x1="544.70" y1="317.40" x2="548.90" y2="317.40" stroke="#1a1a1a" stroke-width="1.3" />
<line x1="544.70" y1="310.35" x2="548.90" y2="310.35" stroke="#1a1a1a" stroke-width="1.3" />
<line x1="544.70" y1="303.30" x2="553.20" y2="303.30" stroke="#1a1a1a" stroke-width="1.3" />
<line x1="544.70" y1="296.25" x2="548.90" y2="296.25" stroke="#1a1a1a" stroke-width="1.3" />
<line x1="544.70" y1="289.20" x2="548.90" y2="289.20" stroke="#1a1a1a" stroke-width="1.3" />
<line x1="544.70" y1="282.15" x2="548.90" y2="282.15" stroke="#1a1a1a" stroke-width="1.3" />
<line x1="544.70" y1="275.10" x2="553.20" y2="275.10" stroke="#1a1a1a" stroke-width="1.3" />
<text x="558.5" y="422.4" font-size="19" fill="#000" text-anchor="start" font-weight="normal" font-family='"Liberation Serif", "DejaVu Serif", serif' >-48</text>
<text x="558.5" y="394.2" font-size="19" fill="#000" text-anchor="start" font-weight="normal" font-family='"Liberation Serif", "DejaVu Serif", serif' >-46</text>
<text x="558.5" y="366.0" font-size="19" fill="#000" text-anchor="start" font-weight="normal" font-family='"Liberation Serif", "DejaVu Serif", serif' >-44</text>
<text x="558.5" y="337.8" font-size="19" fill="#000" text-anchor="start" font-weight="normal" font-family='"Liberation Serif", "DejaVu Serif", serif' >-42</text>
<text x="558.5" y="309.6" font-size="19" fill="#000" text-anchor="start" font-weight="normal" font-family='"Liberation Serif", "DejaVu Serif", serif' >-40</text>
<text x="558.5" y="281.4" font-size="19" fill="#000" text-anchor="start" font-weight="normal" font-family='"Liberation Serif", "DejaVu Serif", serif' >-38</text>
<line x1="544.70" y1="635.03" x2="548.90" y2="635.03" stroke="#1a1a1a" stroke-width="1.3" />
<line x1="544.70" y1="627.91" x2="548.90" y2="627.91" stroke="#1a1a1a" stroke-width="1.3" />
<line x1="544.70" y1="620.80" x2="553.20" y2="620.80" stroke="#1a1a1a" stroke-width="1.3" />
<line x1="544.70" y1="613.68" x2="548.90" y2="613.68" stroke="#1a1a1a" stroke-width="1.3" />
<line x1="544.70" y1="606.57" x2="548.90" y2="606.57" stroke="#1a1a1a" stroke-width="1.3" />
<line x1="544.70" y1="599.46" x2="548.90" y2="599.46" stroke="#1a1a1a" stroke-width="1.3" />
<line x1="544.70" y1="592.34" x2="553.20" y2="592.34" stroke="#1a1a1a" stroke-width="1.3" />
<line x1="544.70" y1="585.23" x2="548.90" y2="585.23" stroke="#1a1a1a" stroke-width="1.3" />
<line x1="544.70" y1="578.11" x2="548.90" y2="578.11" stroke="#1a1a1a" stroke-width="1.3" />
<line x1="544.70" y1="571.00" x2="548.90" y2="571.00" stroke="#1a1a1a" stroke-width="1.3" />
<line x1="544.70" y1="563.88" x2="553.20" y2="563.88" stroke="#1a1a1a" stroke-width="1.3" />
<line x1="544.70" y1="556.76" x2="548.90" y2="556.76" stroke="#1a1a1a" stroke-width="1.3" />
<line x1="544.70" y1="549.65" x2="548.90" y2="549.65" stroke="#1a1a1a" stroke-width="1.3" />
<line x1="544.70" y1="542.53" x2="548.90" y2="542.53" stroke="#1a1a1a" stroke-width="1.3" />
<line x1="544.70" y1="535.42" x2="553.20" y2="535.42" stroke="#1a1a1a" stroke-width="1.3" />
<line x1="544.70" y1="528.30" x2="548.90" y2="528.30" stroke="#1a1a1a" stroke-width="1.3" />
<line x1="544.70" y1="521.19" x2="548.90" y2="521.19" stroke="#1a1a1a" stroke-width="1.3" />
<line x1="544.70" y1="514.08" x2="548.90" y2="514.08" stroke="#1a1a1a" stroke-width="1.3" />
<line x1="544.70" y1="506.96" x2="553.20" y2="506.96" stroke="#1a1a1a" stroke-width="1.3" />
<line x1="544.70" y1="499.85" x2="548.90" y2="499.85" stroke="#1a1a1a" stroke-width="1.3" />
<line x1="544.70" y1="492.73" x2="548.90" y2="492.73" stroke="#1a1a1a" stroke-width="1.3" />
<line x1="544.70" y1="485.62" x2="548.90" y2="485.62" stroke="#1a1a1a" stroke-width="1.3" />
<line x1="544.70" y1="478.50" x2="553.20" y2="478.50" stroke="#1a1a1a" stroke-width="1.3" />
<line x1="544.70" y1="471.38" x2="548.90" y2="471.38" stroke="#1a1a1a" stroke-width="1.3" />
<text x="558.5" y="627.1" font-size="19" fill="#000" text-anchor="start" font-weight="normal" font-family='"Liberation Serif", "DejaVu Serif", serif' >-18</text>
<text x="558.5" y="598.6" font-size="19" fill="#000" text-anchor="start" font-weight="normal" font-family='"Liberation Serif", "DejaVu Serif", serif' >-16</text>
<text x="558.5" y="570.2" font-size="19" fill="#000" text-anchor="start" font-weight="normal" font-family='"Liberation Serif", "DejaVu Serif", serif' >-14</text>
<text x="558.5" y="541.7" font-size="19" fill="#000" text-anchor="start" font-weight="normal" font-family='"Liberation Serif", "DejaVu Serif", serif' >-12</text>
<text x="558.5" y="513.3" font-size="19" fill="#000" text-anchor="start" font-weight="normal" font-family='"Liberation Serif", "DejaVu Serif", serif' >-10</text>
<text x="558.5" y="484.8" font-size="19" fill="#000" text-anchor="start" font-weight="normal" font-family='"Liberation Serif", "DejaVu Serif", serif' >-8</text>
<text x="110.5" y="260.4" font-size="19" fill="#000" text-anchor="start" font-weight="normal" font-family='"Liberation Serif", "DejaVu Serif", serif' >BJL</text>
<text x="288.3" y="260.2" font-size="19.5" fill="#000" text-anchor="start" font-weight="normal" font-family='"Liberation Serif", "DejaVu Serif", serif' textLength="129" lengthAdjust="spacingAndGlyphs">08-09/03/2022</text>
<text x="519.0" y="260.4" font-size="19" fill="#000" text-anchor="start" font-weight="normal" font-family='"Liberation Serif", "DejaVu Serif", serif' >O6</text>
<text x="0.0" y="0.0" font-size="20" fill="#000" text-anchor="middle" font-weight="normal" font-family='"Liberation Serif", "DejaVu Serif", serif' textLength="157" lengthAdjust="spacingAndGlyphs" transform="translate(46.5,353.4) rotate(-90)">Zonal (W - E) (km)</text>
<text x="0.0" y="0.0" font-size="20" fill="#000" text-anchor="middle" font-weight="normal" font-family='"Liberation Serif", "DejaVu Serif", serif' textLength="195" lengthAdjust="spacingAndGlyphs" transform="translate(46.8,553.9) rotate(-90)">Meridional (S - N) (km)</text>
<text x="0.0" y="0.0" font-size="20" fill="#000" text-anchor="middle" font-weight="normal" font-family='"Liberation Serif", "DejaVu Serif", serif' transform="translate(599.5,352) rotate(-90) scale(1.04,1)">Geogr. Longitude (<tspan font-size="10" dy="-8">o</tspan><tspan dy="8">)</tspan></text>
<text x="0.0" y="0.0" font-size="20" fill="#000" text-anchor="middle" font-weight="normal" font-family='"Liberation Serif", "DejaVu Serif", serif' transform="translate(599.5,554) rotate(-90) scale(1.04,1)">Geogr. Latitude (<tspan font-size="10" dy="-8">o</tspan><tspan dy="8">)</tspan></text>
<text x="110.0" y="665.8" font-size="19" fill="#000" text-anchor="middle" font-weight="normal" font-family='"Liberation Serif", "DejaVu Serif", serif' >20</text>
<text x="172.1" y="665.8" font-size="19" fill="#000" text-anchor="middle" font-weight="normal" font-family='"Liberation Serif", "DejaVu Serif", serif' >22</text>
<text x="234.2" y="665.8" font-size="19" fill="#000" text-anchor="middle" font-weight="normal" font-family='"Liberation Serif", "DejaVu Serif", serif' >24</text>
<text x="296.3" y="665.8" font-size="19" fill="#000" text-anchor="middle" font-weight="normal" font-family='"Liberation Serif", "DejaVu Serif", serif' >26</text>
<text x="358.4" y="665.8" font-size="19" fill="#000" text-anchor="middle" font-weight="normal" font-family='"Liberation Serif", "DejaVu Serif", serif' >28</text>
<text x="420.5" y="665.8" font-size="19" fill="#000" text-anchor="middle" font-weight="normal" font-family='"Liberation Serif", "DejaVu Serif", serif' >30</text>
<text x="482.6" y="665.8" font-size="19" fill="#000" text-anchor="middle" font-weight="normal" font-family='"Liberation Serif", "DejaVu Serif", serif' >32</text>
<text x="544.7" y="665.8" font-size="19" fill="#000" text-anchor="middle" font-weight="normal" font-family='"Liberation Serif", "DejaVu Serif", serif' >34</text>
<text x="327.3" y="687.4" font-size="20" fill="#000" text-anchor="middle" font-weight="normal" font-family='"Liberation Serif", "DejaVu Serif", serif' textLength="71.5" lengthAdjust="spacingAndGlyphs">UT (hrs)</text>
<line x1="110.00" y1="692.80" x2="544.70" y2="692.80" stroke="#1a1a1a" stroke-width="1.4" />
<line x1="110.00" y1="692.80" x2="110.00" y2="696.30" stroke="#1a1a1a" stroke-width="1.3" />
<line x1="125.53" y1="692.80" x2="125.53" y2="694.80" stroke="#1a1a1a" stroke-width="1.3" />
<line x1="141.05" y1="692.80" x2="141.05" y2="694.80" stroke="#1a1a1a" stroke-width="1.3" />
<line x1="156.57" y1="692.80" x2="156.57" y2="694.80" stroke="#1a1a1a" stroke-width="1.3" />
<line x1="172.10" y1="692.80" x2="172.10" y2="696.30" stroke="#1a1a1a" stroke-width="1.3" />
<line x1="187.62" y1="692.80" x2="187.62" y2="694.80" stroke="#1a1a1a" stroke-width="1.3" />
<line x1="203.15" y1="692.80" x2="203.15" y2="694.80" stroke="#1a1a1a" stroke-width="1.3" />
<line x1="218.68" y1="692.80" x2="218.68" y2="694.80" stroke="#1a1a1a" stroke-width="1.3" />
<line x1="234.20" y1="692.80" x2="234.20" y2="696.30" stroke="#1a1a1a" stroke-width="1.3" />
<line x1="249.72" y1="692.80" x2="249.72" y2="694.80" stroke="#1a1a1a" stroke-width="1.3" />
<line x1="265.25" y1="692.80" x2="265.25" y2="694.80" stroke="#1a1a1a" stroke-width="1.3" />
<line x1="280.77" y1="692.80" x2="280.77" y2="694.80" stroke="#1a1a1a" stroke-width="1.3" />
<line x1="296.30" y1="692.80" x2="296.30" y2="696.30" stroke="#1a1a1a" stroke-width="1.3" />
<line x1="311.83" y1="692.80" x2="311.83" y2="694.80" stroke="#1a1a1a" stroke-width="1.3" />
<line x1="327.35" y1="692.80" x2="327.35" y2="694.80" stroke="#1a1a1a" stroke-width="1.3" />
<line x1="342.88" y1="692.80" x2="342.88" y2="694.80" stroke="#1a1a1a" stroke-width="1.3" />
<line x1="358.40" y1="692.80" x2="358.40" y2="696.30" stroke="#1a1a1a" stroke-width="1.3" />
<line x1="373.93" y1="692.80" x2="373.93" y2="694.80" stroke="#1a1a1a" stroke-width="1.3" />
<line x1="389.45" y1="692.80" x2="389.45" y2="694.80" stroke="#1a1a1a" stroke-width="1.3" />
<line x1="404.98" y1="692.80" x2="404.98" y2="694.80" stroke="#1a1a1a" stroke-width="1.3" />
<line x1="420.50" y1="692.80" x2="420.50" y2="696.30" stroke="#1a1a1a" stroke-width="1.3" />
<line x1="436.03" y1="692.80" x2="436.03" y2="694.80" stroke="#1a1a1a" stroke-width="1.3" />
<line x1="451.55" y1="692.80" x2="451.55" y2="694.80" stroke="#1a1a1a" stroke-width="1.3" />
<line x1="467.07" y1="692.80" x2="467.07" y2="694.80" stroke="#1a1a1a" stroke-width="1.3" />
<line x1="482.60" y1="692.80" x2="482.60" y2="696.30" stroke="#1a1a1a" stroke-width="1.3" />
<line x1="498.12" y1="692.80" x2="498.12" y2="694.80" stroke="#1a1a1a" stroke-width="1.3" />
<line x1="513.65" y1="692.80" x2="513.65" y2="694.80" stroke="#1a1a1a" stroke-width="1.3" />
<line x1="529.17" y1="692.80" x2="529.17" y2="694.80" stroke="#1a1a1a" stroke-width="1.3" />
<line x1="544.70" y1="692.80" x2="544.70" y2="696.30" stroke="#1a1a1a" stroke-width="1.3" />
<text x="110.0" y="721.7" font-size="19" fill="#000" text-anchor="middle" font-weight="normal" font-family='"Liberation Serif", "DejaVu Serif", serif' >17</text>
<text x="172.1" y="721.7" font-size="19" fill="#000" text-anchor="middle" font-weight="normal" font-family='"Liberation Serif", "DejaVu Serif", serif' >19</text>
<text x="234.2" y="721.7" font-size="19" fill="#000" text-anchor="middle" font-weight="normal" font-family='"Liberation Serif", "DejaVu Serif", serif' >21</text>
<text x="296.3" y="721.7" font-size="19" fill="#000" text-anchor="middle" font-weight="normal" font-family='"Liberation Serif", "DejaVu Serif", serif' >23</text>
<text x="358.4" y="721.7" font-size="19" fill="#000" text-anchor="middle" font-weight="normal" font-family='"Liberation Serif", "DejaVu Serif", serif' >01</text>
<text x="420.5" y="721.7" font-size="19" fill="#000" text-anchor="middle" font-weight="normal" font-family='"Liberation Serif", "DejaVu Serif", serif' >03</text>
<text x="482.6" y="721.7" font-size="19" fill="#000" text-anchor="middle" font-weight="normal" font-family='"Liberation Serif", "DejaVu Serif", serif' >05</text>
<text x="544.7" y="721.7" font-size="19" fill="#000" text-anchor="middle" font-weight="normal" font-family='"Liberation Serif", "DejaVu Serif", serif' >07</text>
<text x="327.2" y="742.9" font-size="20" fill="#000" text-anchor="middle" font-weight="normal" font-family='"Liberation Serif", "DejaVu Serif", serif' textLength="67.5" lengthAdjust="spacingAndGlyphs">LT (hrs)</text>
<line x1="327.35" y1="270.40" x2="327.35" y2="637.40" stroke="#7030a0" stroke-width="3.2" />
<rect x="663.7" y="371.2" width="19.3" height="250.8" fill="url(#cbar)" stroke="#1a1a1a" stroke-width="1.2"/>
<line x1="663.70" y1="371.20" x2="668.20" y2="371.20" stroke="#1a1a1a" stroke-width="1.1" />
<line x1="663.70" y1="402.55" x2="666.70" y2="402.55" stroke="#1a1a1a" stroke-width="1.1" />
<line x1="663.70" y1="433.90" x2="668.20" y2="433.90" stroke="#1a1a1a" stroke-width="1.1" />
<line x1="663.70" y1="465.25" x2="666.70" y2="465.25" stroke="#1a1a1a" stroke-width="1.1" />
<line x1="663.70" y1="496.60" x2="668.20" y2="496.60" stroke="#1a1a1a" stroke-width="1.1" />
<line x1="663.70" y1="527.95" x2="666.70" y2="527.95" stroke="#1a1a1a" stroke-width="1.1" />
<line x1="663.70" y1="559.30" x2="668.20" y2="559.30" stroke="#1a1a1a" stroke-width="1.1" />
<line x1="663.70" y1="590.65" x2="666.70" y2="590.65" stroke="#1a1a1a" stroke-width="1.1" />
<line x1="663.70" y1="622.00" x2="668.20" y2="622.00" stroke="#1a1a1a" stroke-width="1.1" />
<text x="659.5" y="380.5" font-size="15.5" fill="#000" text-anchor="end" font-weight="normal" font-family='"Liberation Serif", "DejaVu Serif", serif' textLength="23.5" lengthAdjust="spacingAndGlyphs">100</text>
<text x="659.5" y="439.7" font-size="15.5" fill="#000" text-anchor="end" font-weight="normal" font-family='"Liberation Serif", "DejaVu Serif", serif' textLength="23.5" lengthAdjust="spacingAndGlyphs">075</text>
<text x="659.5" y="502.2" font-size="15.5" fill="#000" text-anchor="end" font-weight="normal" font-family='"Liberation Serif", "DejaVu Serif", serif' textLength="23.5" lengthAdjust="spacingAndGlyphs">050</text>
<text x="659.5" y="564.9" font-size="15.5" fill="#000" text-anchor="end" font-weight="normal" font-family='"Liberation Serif", "DejaVu Serif", serif' textLength="23.5" lengthAdjust="spacingAndGlyphs">025</text>
<text x="659.5" y="623.2" font-size="15.5" fill="#000" text-anchor="end" font-weight="normal" font-family='"Liberation Serif", "DejaVu Serif", serif' textLength="23.5" lengthAdjust="spacingAndGlyphs">000</text>
<text x="0.0" y="0.0" font-size="15" fill="#000" text-anchor="middle" font-weight="normal" font-family='"Liberation Serif", "DejaVu Serif", serif' textLength="121" lengthAdjust="spacingAndGlyphs" transform="translate(624,498.9) rotate(-90)">Relative Intensity</text>
<text x="182.8" y="320.0" font-size="23" fill="#ff0000" text-anchor="start" font-weight="normal" font-family='"Liberation Serif", "DejaVu Serif", serif' >EPB</text>
<line x1="234.2" y1="324.0" x2="298.7" y2="349.8" stroke="#ff0000" stroke-width="3.4"/>
<polygon points="308.0,353.5 295.7,354.5 299.8,344.3" fill="#ff0000"/>
<ellipse cx="412.6" cy="308.9" rx="36.3" ry="20.7" transform="rotate(-37.9 412.6 308.9)" fill="none" stroke="#00b050" stroke-width="3.3"/>
<ellipse cx="443.75" cy="365.1" rx="42.4" ry="12.2" transform="rotate(-30.1 443.75 365.1)" fill="none" stroke="#00b050" stroke-width="3.3"/>
<ellipse cx="368.25" cy="397.7" rx="40.3" ry="29.6" transform="rotate(46.5 368.25 397.7)" fill="none" stroke="#00b0f0" stroke-width="3.4"/>
<line x1="486.5" y1="329.6" x2="423.9" y2="309.1" stroke="#00b050" stroke-width="3.4"/>
<polygon points="414.4,306.0 426.6,304.2 423.1,314.6" fill="#00b050"/>
<line x1="486.5" y1="388.0" x2="449.8" y2="371.2" stroke="#00b050" stroke-width="3.4"/>
<polygon points="440.7,367.0 453.0,366.6 448.4,376.6" fill="#00b050"/>
<text x="489.3" y="334.4" font-size="19.5" fill="#00b050" text-anchor="start" font-weight="normal" font-family='"Liberation Serif", "DejaVu Serif", serif' >WhB 1</text>
<text x="489.3" y="392.0" font-size="19.5" fill="#00b050" text-anchor="start" font-weight="normal" font-family='"Liberation Serif", "DejaVu Serif", serif' >WhB 2</text>
<ellipse cx="295.8" cy="365.6" rx="4.1" ry="4.5" fill="#fff" stroke="#1a3cff" stroke-width="1.9"/>
<ellipse cx="328.8" cy="383" rx="4.1" ry="4.5" fill="#fff" stroke="#1a3cff" stroke-width="1.9"/>
<ellipse cx="356.4" cy="360.4" rx="4.1" ry="4.5" fill="#fff" stroke="#1a3cff" stroke-width="1.9"/>
<ellipse cx="392" cy="328.6" rx="4.1" ry="4.5" fill="#fff" stroke="#1a3cff" stroke-width="1.9"/>
<ellipse cx="419.3" cy="302.3" rx="4.1" ry="4.5" fill="#fff" stroke="#1a3cff" stroke-width="1.9"/>
<ellipse cx="324.45" cy="519.55" rx="58.4" ry="29.6" transform="rotate(-12.3 324.45 519.55)" fill="none" stroke="#000" stroke-width="2.6"/>
<ellipse cx="409.95" cy="605.1" rx="39.3" ry="26.9" transform="rotate(48.4 409.95 605.1)" fill="none" stroke="#00b0f0" stroke-width="3.4"/>
<text x="185.5" y="569.7" font-size="24" fill="#000" text-anchor="start" font-weight="normal" font-family='"Liberation Serif", "DejaVu Serif", serif' >EIA</text>
<line x1="230.4" y1="558.0" x2="280.0" y2="537.0" stroke="#000" stroke-width="3"/>
<polygon points="289.2,533.1 281.2,542.5 276.9,532.3" fill="#000"/>
<line x1="519.5" y1="545.5" x2="392.9" y2="427.5" stroke="#00b0f0" stroke-width="3.4"/>
<polygon points="385.6,420.7 397.4,424.2 389.9,432.2" fill="#00b0f0"/>
<line x1="519.5" y1="583.0" x2="444.6" y2="602.7" stroke="#00b0f0" stroke-width="3.4"/>
<polygon points="434.9,605.2 444.1,597.1 446.9,607.7" fill="#00b0f0"/>
<text x="490.9" y="571.9" font-size="19.5" fill="#0070c0" text-anchor="start" font-weight="normal" font-family='"Liberation Serif", "DejaVu Serif", serif' >MBW</text>
</svg>
</body></html>
